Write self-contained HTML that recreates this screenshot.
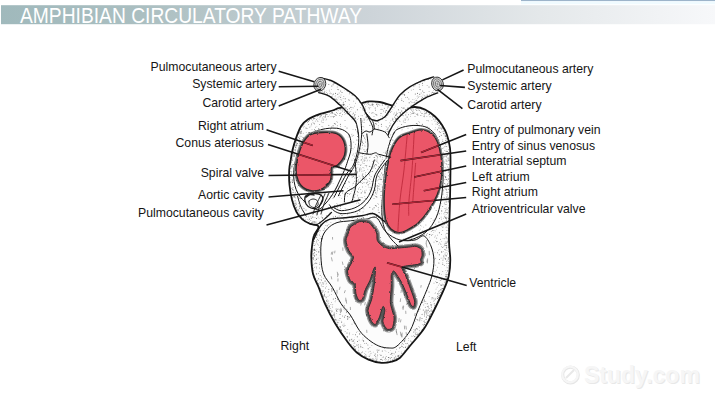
<!DOCTYPE html>
<html><head><meta charset="utf-8"><style>
html,body{margin:0;padding:0;background:#fff;width:715px;height:402px;overflow:hidden;}
svg{position:absolute;left:0;top:0;}
text{font-family:"Liberation Sans",sans-serif;font-size:12.25px;fill:#151515;}
.title{font-size:21.5px;fill:#fff;}
</style></head><body>
<svg width="715" height="402" viewBox="0 0 715 402">
<defs>
<filter id="rough" x="-5%" y="-5%" width="110%" height="110%"><feTurbulence type="fractalNoise" baseFrequency="0.35" numOctaves="2" seed="4"/><feDisplacementMap in="SourceGraphic" scale="2.2" xChannelSelector="R" yChannelSelector="G"/></filter>
<linearGradient id="tg" gradientUnits="userSpaceOnUse" x1="0" x2="715" y1="0" y2="0">
<stop offset="0" stop-color="#a0b9bc"/><stop offset="0.2" stop-color="#abbfc1"/><stop offset="0.52" stop-color="#cdd4d9"/><stop offset="0.755" stop-color="#e4e8ea"/><stop offset="1" stop-color="#f7f8fa"/>
</linearGradient>
<pattern id="stip" width="41" height="41" patternUnits="userSpaceOnUse"><rect width="41" height="41" fill="#fdfdfd"/><g fill="#6a6a6a"><circle cx="9.8" cy="22.3" r="0.39"/><circle cx="24.8" cy="25.7" r="0.32"/><circle cx="0.5" cy="34.3" r="0.36"/><circle cx="9.6" cy="40.8" r="0.42"/><circle cx="34.3" cy="19.5" r="0.46"/><circle cx="6.2" cy="26.0" r="0.52"/><circle cx="21.5" cy="30.4" r="0.47"/><circle cx="2.6" cy="31.1" r="0.45"/><circle cx="12.4" cy="1.3" r="0.52"/><circle cx="19.4" cy="29.5" r="0.52"/><circle cx="29.3" cy="37.8" r="0.40"/><circle cx="32.8" cy="18.2" r="0.53"/><circle cx="36.0" cy="4.0" r="0.33"/><circle cx="8.9" cy="39.6" r="0.41"/><circle cx="25.7" cy="12.3" r="0.43"/><circle cx="15.8" cy="14.4" r="0.45"/><circle cx="24.0" cy="37.1" r="0.47"/><circle cx="38.1" cy="35.1" r="0.55"/><circle cx="27.5" cy="6.7" r="0.52"/><circle cx="39.5" cy="37.1" r="0.44"/><circle cx="29.3" cy="8.7" r="0.51"/><circle cx="23.5" cy="11.7" r="0.32"/><circle cx="35.0" cy="40.6" r="0.32"/><circle cx="32.8" cy="16.8" r="0.34"/><circle cx="12.0" cy="31.5" r="0.52"/><circle cx="1.8" cy="25.2" r="0.31"/><circle cx="29.5" cy="13.6" r="0.52"/><circle cx="40.2" cy="20.7" r="0.55"/><circle cx="12.7" cy="3.2" r="0.45"/><circle cx="1.3" cy="8.1" r="0.40"/><circle cx="25.0" cy="6.4" r="0.31"/><circle cx="35.6" cy="12.9" r="0.54"/><circle cx="36.8" cy="15.5" r="0.42"/><circle cx="21.3" cy="26.4" r="0.45"/><circle cx="22.9" cy="25.4" r="0.54"/><circle cx="20.8" cy="17.7" r="0.48"/><circle cx="9.7" cy="12.3" r="0.54"/><circle cx="21.4" cy="22.5" r="0.30"/><circle cx="17.0" cy="23.8" r="0.31"/><circle cx="25.2" cy="25.9" r="0.32"/><circle cx="25.7" cy="19.1" r="0.47"/><circle cx="14.5" cy="29.0" r="0.48"/><circle cx="0.9" cy="2.5" r="0.47"/><circle cx="39.5" cy="10.3" r="0.41"/><circle cx="24.3" cy="13.1" r="0.39"/><circle cx="12.8" cy="15.1" r="0.45"/><circle cx="12.3" cy="15.5" r="0.49"/><circle cx="1.1" cy="23.3" r="0.48"/><circle cx="12.7" cy="9.1" r="0.50"/><circle cx="9.8" cy="7.7" r="0.41"/><circle cx="28.6" cy="4.2" r="0.38"/><circle cx="13.7" cy="34.2" r="0.41"/><circle cx="35.1" cy="6.9" r="0.38"/><circle cx="26.7" cy="36.3" r="0.41"/><circle cx="9.2" cy="5.0" r="0.43"/><circle cx="7.8" cy="33.1" r="0.51"/><circle cx="7.5" cy="11.4" r="0.50"/><circle cx="26.3" cy="33.1" r="0.39"/><circle cx="5.3" cy="12.0" r="0.50"/><circle cx="11.1" cy="14.2" r="0.40"/><circle cx="17.2" cy="16.8" r="0.53"/><circle cx="6.4" cy="0.2" r="0.54"/><circle cx="36.1" cy="40.5" r="0.41"/><circle cx="39.0" cy="38.0" r="0.36"/><circle cx="30.6" cy="34.3" r="0.47"/><circle cx="21.3" cy="11.9" r="0.39"/><circle cx="9.3" cy="2.8" r="0.45"/><circle cx="11.8" cy="33.2" r="0.31"/><circle cx="37.0" cy="28.4" r="0.53"/><circle cx="36.8" cy="36.9" r="0.44"/><circle cx="0.5" cy="30.6" r="0.34"/><circle cx="12.3" cy="27.2" r="0.43"/><circle cx="17.0" cy="38.5" r="0.45"/><circle cx="14.0" cy="10.4" r="0.52"/><circle cx="19.6" cy="32.1" r="0.39"/><circle cx="8.1" cy="21.9" r="0.50"/><circle cx="7.0" cy="32.5" r="0.53"/><circle cx="33.0" cy="33.8" r="0.30"/><circle cx="25.8" cy="35.4" r="0.31"/><circle cx="11.1" cy="11.0" r="0.43"/><circle cx="17.3" cy="19.4" r="0.49"/><circle cx="0.1" cy="2.2" r="0.33"/><circle cx="5.1" cy="2.8" r="0.54"/><circle cx="35.0" cy="3.5" r="0.43"/><circle cx="13.0" cy="12.9" r="0.39"/><circle cx="26.5" cy="24.1" r="0.39"/><circle cx="7.8" cy="13.5" r="0.33"/><circle cx="22.8" cy="29.4" r="0.40"/><circle cx="3.3" cy="7.3" r="0.39"/><circle cx="24.8" cy="32.1" r="0.40"/><circle cx="32.8" cy="25.5" r="0.41"/><circle cx="15.3" cy="20.3" r="0.48"/><circle cx="17.2" cy="28.5" r="0.42"/><circle cx="10.0" cy="22.0" r="0.47"/><circle cx="2.9" cy="17.4" r="0.41"/><circle cx="36.1" cy="38.4" r="0.39"/><circle cx="36.8" cy="32.4" r="0.37"/><circle cx="19.0" cy="5.0" r="0.50"/><circle cx="27.2" cy="36.4" r="0.50"/><circle cx="27.4" cy="30.1" r="0.44"/><circle cx="4.2" cy="24.1" r="0.30"/><circle cx="5.9" cy="31.7" r="0.31"/><circle cx="3.8" cy="4.1" r="0.52"/><circle cx="7.3" cy="1.0" r="0.51"/><circle cx="5.0" cy="34.6" r="0.47"/><circle cx="34.3" cy="39.0" r="0.44"/><circle cx="32.7" cy="1.5" r="0.49"/><circle cx="21.0" cy="29.3" r="0.33"/><circle cx="30.7" cy="38.3" r="0.32"/><circle cx="13.3" cy="23.1" r="0.51"/><circle cx="9.9" cy="7.4" r="0.36"/><circle cx="25.3" cy="30.9" r="0.40"/><circle cx="15.1" cy="16.3" r="0.39"/><circle cx="17.1" cy="3.4" r="0.43"/><circle cx="39.9" cy="16.9" r="0.49"/><circle cx="6.6" cy="28.3" r="0.49"/><circle cx="27.6" cy="21.2" r="0.42"/><circle cx="26.4" cy="36.8" r="0.34"/><circle cx="3.9" cy="30.7" r="0.53"/><circle cx="21.2" cy="18.2" r="0.48"/><circle cx="7.6" cy="11.0" r="0.35"/><circle cx="24.0" cy="12.9" r="0.36"/><circle cx="28.3" cy="39.1" r="0.37"/><circle cx="28.9" cy="16.9" r="0.51"/><circle cx="24.0" cy="11.0" r="0.35"/><circle cx="0.9" cy="19.7" r="0.40"/><circle cx="7.1" cy="14.8" r="0.38"/><circle cx="31.7" cy="5.9" r="0.55"/><circle cx="19.7" cy="24.6" r="0.42"/><circle cx="34.2" cy="33.7" r="0.44"/><circle cx="19.7" cy="29.5" r="0.51"/><circle cx="16.4" cy="30.1" r="0.54"/><circle cx="19.2" cy="9.4" r="0.36"/><circle cx="29.4" cy="27.7" r="0.54"/><circle cx="35.0" cy="9.9" r="0.35"/><circle cx="10.6" cy="7.7" r="0.48"/><circle cx="35.2" cy="36.9" r="0.36"/><circle cx="35.5" cy="12.9" r="0.41"/><circle cx="29.9" cy="3.5" r="0.32"/><circle cx="34.2" cy="12.0" r="0.39"/><circle cx="23.8" cy="27.7" r="0.30"/><circle cx="13.7" cy="17.9" r="0.42"/><circle cx="8.6" cy="24.0" r="0.54"/><circle cx="16.0" cy="22.3" r="0.33"/><circle cx="11.3" cy="27.3" r="0.33"/><circle cx="36.4" cy="37.3" r="0.32"/><circle cx="38.6" cy="15.3" r="0.49"/><circle cx="31.1" cy="12.1" r="0.47"/><circle cx="26.8" cy="33.0" r="0.37"/><circle cx="30.9" cy="39.4" r="0.47"/></g></pattern><pattern id="stipD" width="29" height="29" patternUnits="userSpaceOnUse"><rect width="29" height="29" fill="none"/><g fill="#555"><circle cx="15.5" cy="3.3" r="0.42"/><circle cx="10.2" cy="20.8" r="0.47"/><circle cx="16.4" cy="5.3" r="0.46"/><circle cx="18.3" cy="5.2" r="0.52"/><circle cx="19.0" cy="3.6" r="0.53"/><circle cx="4.1" cy="9.6" r="0.48"/><circle cx="17.3" cy="16.1" r="0.46"/><circle cx="13.3" cy="9.1" r="0.34"/><circle cx="2.0" cy="20.8" r="0.49"/><circle cx="15.8" cy="21.4" r="0.39"/><circle cx="7.7" cy="11.1" r="0.52"/><circle cx="1.2" cy="14.6" r="0.36"/><circle cx="22.3" cy="10.3" r="0.38"/><circle cx="11.7" cy="15.7" r="0.49"/><circle cx="10.2" cy="24.6" r="0.33"/><circle cx="7.8" cy="2.9" r="0.33"/><circle cx="22.6" cy="21.1" r="0.35"/><circle cx="5.5" cy="12.1" r="0.49"/><circle cx="23.7" cy="21.7" r="0.45"/><circle cx="4.2" cy="11.6" r="0.35"/><circle cx="15.3" cy="16.5" r="0.35"/><circle cx="7.3" cy="22.7" r="0.31"/><circle cx="23.3" cy="25.8" r="0.54"/><circle cx="11.1" cy="16.0" r="0.45"/><circle cx="18.4" cy="28.3" r="0.47"/><circle cx="8.7" cy="24.9" r="0.42"/><circle cx="17.4" cy="21.1" r="0.30"/><circle cx="22.3" cy="19.2" r="0.42"/><circle cx="15.2" cy="13.4" r="0.35"/><circle cx="15.4" cy="1.1" r="0.43"/><circle cx="18.7" cy="12.9" r="0.44"/><circle cx="27.8" cy="25.9" r="0.33"/><circle cx="23.0" cy="18.1" r="0.31"/><circle cx="10.4" cy="6.8" r="0.32"/><circle cx="15.6" cy="27.0" r="0.38"/><circle cx="25.2" cy="20.1" r="0.33"/><circle cx="24.9" cy="17.4" r="0.53"/><circle cx="20.8" cy="21.5" r="0.39"/><circle cx="23.4" cy="27.0" r="0.52"/><circle cx="12.7" cy="21.9" r="0.42"/><circle cx="3.2" cy="1.2" r="0.32"/><circle cx="5.8" cy="4.7" r="0.42"/><circle cx="20.3" cy="15.6" r="0.41"/><circle cx="18.8" cy="8.8" r="0.42"/><circle cx="22.0" cy="11.6" r="0.35"/><circle cx="26.1" cy="20.9" r="0.39"/><circle cx="10.8" cy="15.4" r="0.45"/><circle cx="6.5" cy="0.1" r="0.35"/><circle cx="22.7" cy="4.2" r="0.41"/><circle cx="5.7" cy="6.1" r="0.34"/><circle cx="11.7" cy="4.9" r="0.31"/><circle cx="3.2" cy="4.9" r="0.42"/><circle cx="1.7" cy="0.7" r="0.41"/><circle cx="11.8" cy="20.4" r="0.31"/><circle cx="11.7" cy="11.5" r="0.31"/><circle cx="28.0" cy="6.3" r="0.32"/><circle cx="13.8" cy="4.8" r="0.46"/><circle cx="10.0" cy="3.6" r="0.31"/><circle cx="21.1" cy="8.0" r="0.50"/><circle cx="13.5" cy="27.1" r="0.38"/><circle cx="7.2" cy="7.7" r="0.50"/><circle cx="18.2" cy="10.0" r="0.32"/><circle cx="19.8" cy="28.1" r="0.45"/><circle cx="0.1" cy="0.9" r="0.32"/><circle cx="4.9" cy="1.1" r="0.31"/><circle cx="19.0" cy="26.1" r="0.35"/><circle cx="28.2" cy="13.8" r="0.50"/><circle cx="26.6" cy="27.3" r="0.31"/><circle cx="8.8" cy="17.6" r="0.54"/><circle cx="2.5" cy="8.5" r="0.51"/><circle cx="3.3" cy="11.3" r="0.38"/><circle cx="19.7" cy="26.9" r="0.34"/><circle cx="21.5" cy="21.3" r="0.51"/><circle cx="16.0" cy="26.8" r="0.39"/><circle cx="12.0" cy="6.7" r="0.49"/><circle cx="13.9" cy="7.8" r="0.34"/><circle cx="20.9" cy="17.6" r="0.48"/><circle cx="11.2" cy="14.1" r="0.34"/><circle cx="20.6" cy="0.7" r="0.42"/><circle cx="22.0" cy="19.6" r="0.32"/><circle cx="6.9" cy="24.5" r="0.46"/><circle cx="25.5" cy="25.3" r="0.41"/><circle cx="26.0" cy="21.3" r="0.38"/><circle cx="10.7" cy="2.1" r="0.40"/><circle cx="27.7" cy="3.0" r="0.44"/><circle cx="3.2" cy="2.3" r="0.46"/><circle cx="7.0" cy="1.4" r="0.34"/><circle cx="18.7" cy="17.0" r="0.30"/><circle cx="6.7" cy="28.1" r="0.36"/><circle cx="16.3" cy="12.2" r="0.50"/><circle cx="17.5" cy="22.9" r="0.43"/><circle cx="5.5" cy="5.2" r="0.32"/><circle cx="23.9" cy="3.3" r="0.31"/><circle cx="28.0" cy="5.8" r="0.52"/><circle cx="2.5" cy="13.5" r="0.36"/><circle cx="24.1" cy="17.8" r="0.46"/><circle cx="22.1" cy="25.3" r="0.39"/><circle cx="17.5" cy="12.9" r="0.33"/><circle cx="24.2" cy="17.2" r="0.50"/><circle cx="6.0" cy="15.6" r="0.42"/><circle cx="21.1" cy="2.2" r="0.39"/><circle cx="14.1" cy="2.1" r="0.44"/><circle cx="21.3" cy="12.3" r="0.46"/><circle cx="17.6" cy="6.2" r="0.39"/><circle cx="28.9" cy="9.7" r="0.41"/><circle cx="2.4" cy="6.3" r="0.34"/><circle cx="27.0" cy="21.1" r="0.52"/><circle cx="28.6" cy="17.8" r="0.53"/><circle cx="15.5" cy="12.1" r="0.54"/><circle cx="26.2" cy="27.5" r="0.42"/><circle cx="22.4" cy="11.8" r="0.55"/><circle cx="26.7" cy="8.5" r="0.53"/><circle cx="5.4" cy="2.8" r="0.48"/><circle cx="8.5" cy="15.1" r="0.46"/><circle cx="1.2" cy="21.6" r="0.37"/><circle cx="12.5" cy="10.0" r="0.49"/><circle cx="21.7" cy="8.3" r="0.33"/><circle cx="8.7" cy="11.9" r="0.32"/><circle cx="4.4" cy="22.1" r="0.48"/><circle cx="28.3" cy="28.4" r="0.52"/><circle cx="10.8" cy="4.7" r="0.38"/><circle cx="13.4" cy="15.3" r="0.44"/><circle cx="10.4" cy="24.7" r="0.37"/><circle cx="13.4" cy="25.7" r="0.50"/><circle cx="8.6" cy="7.0" r="0.50"/><circle cx="0.3" cy="3.8" r="0.43"/><circle cx="15.5" cy="4.8" r="0.31"/><circle cx="5.9" cy="22.3" r="0.42"/><circle cx="28.4" cy="22.8" r="0.54"/><circle cx="1.0" cy="5.4" r="0.30"/><circle cx="12.5" cy="9.8" r="0.31"/><circle cx="15.8" cy="2.7" r="0.38"/><circle cx="7.2" cy="23.3" r="0.40"/><circle cx="7.6" cy="1.3" r="0.41"/><circle cx="18.2" cy="19.6" r="0.53"/><circle cx="23.4" cy="7.2" r="0.33"/><circle cx="22.0" cy="22.9" r="0.43"/><circle cx="24.1" cy="16.0" r="0.37"/><circle cx="4.9" cy="0.5" r="0.46"/><circle cx="26.0" cy="26.3" r="0.42"/><circle cx="19.3" cy="26.9" r="0.50"/><circle cx="17.5" cy="12.0" r="0.43"/><circle cx="5.0" cy="5.3" r="0.47"/><circle cx="28.8" cy="15.9" r="0.40"/><circle cx="10.2" cy="13.2" r="0.50"/><circle cx="13.1" cy="27.8" r="0.34"/><circle cx="9.1" cy="15.1" r="0.40"/><circle cx="24.7" cy="24.0" r="0.53"/><circle cx="17.8" cy="0.9" r="0.44"/><circle cx="15.9" cy="14.1" r="0.37"/><circle cx="20.6" cy="26.4" r="0.33"/><circle cx="19.4" cy="10.8" r="0.43"/><circle cx="26.0" cy="27.8" r="0.46"/><circle cx="5.7" cy="26.7" r="0.35"/><circle cx="11.1" cy="24.0" r="0.38"/><circle cx="7.9" cy="27.5" r="0.54"/><circle cx="9.2" cy="11.4" r="0.37"/><circle cx="3.8" cy="7.3" r="0.55"/><circle cx="2.3" cy="6.7" r="0.35"/><circle cx="2.3" cy="15.3" r="0.49"/><circle cx="24.3" cy="18.3" r="0.50"/><circle cx="0.2" cy="8.2" r="0.54"/><circle cx="2.0" cy="7.8" r="0.42"/><circle cx="7.8" cy="15.8" r="0.31"/><circle cx="6.8" cy="27.8" r="0.34"/><circle cx="26.3" cy="5.2" r="0.55"/><circle cx="19.6" cy="18.8" r="0.34"/><circle cx="1.6" cy="22.0" r="0.34"/><circle cx="5.5" cy="23.9" r="0.52"/><circle cx="1.4" cy="27.9" r="0.43"/></g></pattern><pattern id="stipD2" width="33" height="33" patternUnits="userSpaceOnUse"><rect width="33" height="33" fill="none"/><g fill="#666"><circle cx="12.6" cy="3.5" r="0.38"/><circle cx="32.6" cy="9.3" r="0.33"/><circle cx="4.8" cy="4.2" r="0.37"/><circle cx="30.2" cy="2.5" r="0.34"/><circle cx="31.0" cy="32.9" r="0.50"/><circle cx="8.1" cy="11.7" r="0.49"/><circle cx="16.0" cy="23.2" r="0.36"/><circle cx="0.7" cy="11.4" r="0.45"/><circle cx="25.8" cy="18.8" r="0.39"/><circle cx="17.8" cy="14.6" r="0.41"/><circle cx="27.5" cy="6.6" r="0.42"/><circle cx="30.8" cy="28.0" r="0.34"/><circle cx="31.8" cy="27.7" r="0.33"/><circle cx="8.8" cy="6.7" r="0.31"/><circle cx="32.3" cy="13.5" r="0.47"/><circle cx="3.8" cy="0.5" r="0.47"/><circle cx="26.2" cy="32.7" r="0.44"/><circle cx="17.3" cy="25.3" r="0.32"/><circle cx="17.8" cy="14.6" r="0.33"/><circle cx="19.8" cy="10.7" r="0.40"/><circle cx="12.3" cy="10.5" r="0.37"/><circle cx="19.8" cy="32.4" r="0.49"/><circle cx="28.5" cy="27.6" r="0.36"/><circle cx="32.2" cy="8.9" r="0.32"/><circle cx="16.5" cy="24.2" r="0.37"/><circle cx="21.3" cy="9.3" r="0.49"/><circle cx="14.9" cy="15.8" r="0.41"/><circle cx="28.9" cy="32.6" r="0.41"/><circle cx="14.6" cy="20.4" r="0.31"/><circle cx="14.0" cy="28.0" r="0.46"/><circle cx="2.0" cy="28.2" r="0.38"/><circle cx="32.4" cy="12.1" r="0.34"/><circle cx="18.1" cy="29.2" r="0.39"/><circle cx="28.6" cy="23.5" r="0.37"/><circle cx="9.9" cy="16.7" r="0.38"/><circle cx="12.3" cy="21.5" r="0.48"/><circle cx="19.3" cy="4.8" r="0.34"/><circle cx="12.2" cy="20.3" r="0.33"/><circle cx="2.7" cy="10.6" r="0.36"/><circle cx="1.0" cy="17.8" r="0.48"/><circle cx="17.6" cy="24.3" r="0.47"/><circle cx="27.6" cy="30.1" r="0.39"/><circle cx="22.5" cy="4.0" r="0.48"/><circle cx="12.5" cy="15.7" r="0.48"/><circle cx="9.5" cy="6.3" r="0.46"/><circle cx="19.8" cy="2.8" r="0.31"/><circle cx="11.6" cy="0.2" r="0.47"/><circle cx="6.1" cy="9.0" r="0.38"/><circle cx="16.9" cy="14.3" r="0.43"/><circle cx="21.8" cy="14.4" r="0.32"/><circle cx="32.3" cy="22.8" r="0.32"/><circle cx="14.6" cy="24.9" r="0.50"/><circle cx="2.2" cy="0.3" r="0.40"/><circle cx="13.9" cy="29.5" r="0.47"/><circle cx="10.9" cy="13.8" r="0.42"/><circle cx="29.2" cy="6.7" r="0.38"/><circle cx="2.9" cy="21.2" r="0.31"/><circle cx="30.9" cy="17.3" r="0.41"/><circle cx="2.8" cy="7.7" r="0.39"/><circle cx="28.3" cy="17.8" r="0.36"/><circle cx="32.4" cy="21.8" r="0.41"/><circle cx="6.7" cy="9.9" r="0.48"/><circle cx="4.4" cy="17.5" r="0.42"/><circle cx="11.7" cy="25.4" r="0.48"/><circle cx="28.3" cy="24.4" r="0.34"/><circle cx="2.0" cy="14.3" r="0.36"/><circle cx="6.4" cy="28.8" r="0.34"/><circle cx="27.2" cy="30.9" r="0.32"/><circle cx="30.1" cy="13.1" r="0.34"/><circle cx="6.2" cy="1.2" r="0.40"/><circle cx="12.7" cy="28.1" r="0.47"/><circle cx="1.9" cy="13.2" r="0.38"/><circle cx="5.9" cy="8.3" r="0.35"/><circle cx="22.9" cy="11.2" r="0.32"/><circle cx="7.3" cy="14.6" r="0.41"/><circle cx="8.1" cy="23.1" r="0.34"/><circle cx="22.1" cy="20.1" r="0.34"/><circle cx="24.8" cy="13.0" r="0.41"/><circle cx="19.7" cy="20.7" r="0.39"/><circle cx="1.8" cy="26.0" r="0.47"/><circle cx="16.2" cy="19.1" r="0.35"/><circle cx="29.7" cy="22.6" r="0.34"/><circle cx="27.0" cy="32.5" r="0.37"/><circle cx="32.9" cy="15.9" r="0.34"/><circle cx="23.7" cy="11.2" r="0.45"/><circle cx="19.3" cy="3.6" r="0.41"/><circle cx="28.1" cy="15.8" r="0.41"/><circle cx="28.5" cy="14.7" r="0.40"/><circle cx="19.2" cy="27.2" r="0.34"/><circle cx="3.1" cy="25.1" r="0.41"/><circle cx="10.0" cy="29.4" r="0.48"/><circle cx="17.9" cy="32.6" r="0.47"/><circle cx="24.7" cy="9.6" r="0.30"/><circle cx="22.4" cy="24.3" r="0.37"/><circle cx="15.8" cy="18.7" r="0.35"/><circle cx="23.0" cy="18.6" r="0.38"/><circle cx="3.6" cy="18.3" r="0.36"/><circle cx="23.9" cy="5.7" r="0.38"/><circle cx="6.5" cy="13.5" r="0.42"/><circle cx="3.5" cy="1.8" r="0.40"/><circle cx="6.7" cy="16.7" r="0.33"/><circle cx="3.3" cy="17.7" r="0.48"/><circle cx="28.7" cy="17.0" r="0.38"/><circle cx="2.2" cy="9.1" r="0.36"/><circle cx="31.1" cy="3.9" r="0.49"/><circle cx="15.7" cy="14.3" r="0.35"/><circle cx="31.8" cy="6.1" r="0.41"/><circle cx="16.9" cy="6.6" r="0.34"/><circle cx="32.5" cy="26.1" r="0.45"/><circle cx="29.8" cy="3.3" r="0.44"/><circle cx="24.8" cy="7.4" r="0.39"/><circle cx="32.2" cy="10.8" r="0.45"/><circle cx="5.5" cy="22.0" r="0.35"/><circle cx="16.8" cy="12.3" r="0.47"/><circle cx="24.6" cy="16.6" r="0.44"/><circle cx="14.1" cy="26.5" r="0.35"/><circle cx="18.0" cy="19.3" r="0.38"/><circle cx="1.5" cy="5.6" r="0.43"/><circle cx="7.0" cy="25.0" r="0.40"/><circle cx="31.5" cy="28.0" r="0.45"/></g></pattern><pattern id="stipL" width="31" height="31" patternUnits="userSpaceOnUse"><rect width="31" height="31" fill="#ffffff"/><g fill="#777"><circle cx="11.5" cy="1.3" r="0.41"/><circle cx="23.1" cy="28.6" r="0.34"/><circle cx="4.9" cy="30.4" r="0.45"/><circle cx="15.0" cy="22.9" r="0.33"/><circle cx="16.9" cy="20.7" r="0.42"/><circle cx="5.0" cy="4.2" r="0.42"/><circle cx="27.4" cy="4.3" r="0.30"/><circle cx="2.6" cy="24.3" r="0.38"/><circle cx="14.1" cy="30.8" r="0.42"/><circle cx="8.2" cy="21.7" r="0.30"/><circle cx="8.7" cy="21.7" r="0.33"/><circle cx="1.0" cy="16.1" r="0.37"/><circle cx="30.1" cy="3.1" r="0.46"/><circle cx="12.0" cy="25.0" r="0.39"/><circle cx="20.7" cy="10.1" r="0.34"/><circle cx="14.0" cy="24.8" r="0.37"/><circle cx="7.1" cy="12.9" r="0.32"/><circle cx="9.8" cy="17.8" r="0.41"/><circle cx="18.5" cy="9.0" r="0.30"/><circle cx="0.8" cy="10.5" r="0.34"/><circle cx="17.6" cy="8.2" r="0.45"/><circle cx="18.6" cy="20.5" r="0.45"/><circle cx="16.2" cy="13.2" r="0.36"/><circle cx="2.0" cy="24.6" r="0.40"/><circle cx="3.1" cy="28.7" r="0.42"/><circle cx="19.3" cy="13.6" r="0.33"/><circle cx="31.0" cy="5.2" r="0.37"/><circle cx="31.0" cy="3.8" r="0.40"/><circle cx="14.9" cy="7.7" r="0.48"/><circle cx="12.8" cy="0.4" r="0.39"/><circle cx="0.1" cy="22.0" r="0.47"/><circle cx="28.1" cy="1.5" r="0.44"/><circle cx="9.4" cy="14.7" r="0.36"/><circle cx="9.5" cy="4.1" r="0.43"/><circle cx="2.7" cy="29.9" r="0.31"/><circle cx="29.9" cy="5.9" r="0.32"/><circle cx="23.1" cy="16.5" r="0.45"/><circle cx="15.8" cy="19.5" r="0.32"/><circle cx="20.9" cy="15.9" r="0.49"/><circle cx="0.2" cy="2.1" r="0.44"/><circle cx="28.7" cy="13.1" r="0.44"/><circle cx="17.4" cy="12.1" r="0.39"/><circle cx="18.7" cy="0.9" r="0.36"/><circle cx="22.9" cy="8.0" r="0.39"/><circle cx="8.0" cy="11.1" r="0.43"/></g></pattern>
</defs>
<rect x="521" y="0" width="194" height="1.2" fill="#9db4ca"/>
<rect x="521" y="1.2" width="194" height="3" fill="#f0fbff"/>
<rect x="1" y="5.2" width="714" height="19" fill="url(#tg)"/>
<text class="title" x="20" y="23" textLength="342" lengthAdjust="spacingAndGlyphs">AMPHIBIAN CIRCULATORY PATHWAY</text>
<clipPath id="hc"><path d="M296.4,211.8 C294.7,208.6 293.1,204.4 292.0,199.9 C290.9,195.4 290.0,190.0 289.5,185.0 C289.0,180.0 289.0,174.2 289.2,170.0 C289.4,165.8 290.1,163.3 290.7,160.0 C291.2,156.7 291.6,153.6 292.5,150.0 C293.4,146.4 294.6,142.3 296.0,138.3 C297.4,134.3 299.2,129.3 301.2,126.1 C303.2,122.9 304.9,121.2 308.1,119.2 C311.3,117.2 316.2,115.4 320.3,113.9 C324.4,112.5 329.3,111.5 332.5,110.5 C335.7,109.5 336.2,108.5 339.5,107.8 C342.8,107.0 348.2,106.8 352.0,106.0 C355.8,105.2 359.4,103.8 362.3,103.0 C365.2,102.2 366.3,101.6 369.2,101.4 C372.1,101.2 376.2,101.4 379.7,102.0 C383.1,102.6 386.2,103.7 389.9,104.8 C393.6,105.9 397.8,108.1 402.0,108.5 C406.2,108.9 411.2,106.8 415.0,107.0 C418.8,107.2 421.7,107.9 425.0,109.5 C428.3,111.1 432.2,113.9 435.0,116.5 C437.8,119.1 440.0,121.9 442.0,125.0 C444.0,128.1 445.7,131.2 447.0,135.0 C448.3,138.8 449.4,143.0 450.0,148.0 C450.6,153.0 450.5,156.3 450.5,165.0 C450.5,173.7 450.2,187.5 450.0,200.0 C449.8,212.5 448.9,229.9 449.0,239.9 C449.1,249.9 450.3,253.8 450.3,259.8 C450.3,265.8 449.9,270.7 448.8,275.7 C447.7,280.7 446.3,283.8 443.8,289.7 C441.3,295.6 437.0,304.4 433.7,311.0 C430.4,317.6 427.8,323.2 423.8,329.0 C419.8,334.8 413.9,341.2 409.9,346.0 C405.9,350.8 403.0,355.1 400.0,357.7 C397.0,360.3 394.8,360.7 391.7,361.6 C388.6,362.5 385.3,363.2 381.4,362.9 C377.5,362.6 372.6,361.3 368.5,359.6 C364.4,357.9 360.2,355.4 356.8,352.5 C353.4,349.6 351.5,347.1 347.8,342.2 C344.1,337.3 338.7,329.4 334.9,323.0 C331.1,316.6 327.6,309.5 324.9,303.6 C322.2,297.7 320.7,292.4 318.7,287.4 C316.7,282.4 314.2,279.0 313.0,273.8 C311.8,268.6 311.4,261.2 311.3,256.4 C311.2,251.6 311.8,248.4 312.2,245.0 C312.6,241.6 312.8,238.9 313.9,235.8 C314.9,232.7 319.2,228.5 318.5,226.5 C317.8,224.5 312.6,224.9 309.9,223.7 C307.2,222.5 304.6,221.3 302.4,219.3 C300.1,217.3 298.1,215.0 296.4,211.8 Z"/></clipPath><path d="M296.4,211.8 C294.7,208.6 293.1,204.4 292.0,199.9 C290.9,195.4 290.0,190.0 289.5,185.0 C289.0,180.0 289.0,174.2 289.2,170.0 C289.4,165.8 290.1,163.3 290.7,160.0 C291.2,156.7 291.6,153.6 292.5,150.0 C293.4,146.4 294.6,142.3 296.0,138.3 C297.4,134.3 299.2,129.3 301.2,126.1 C303.2,122.9 304.9,121.2 308.1,119.2 C311.3,117.2 316.2,115.4 320.3,113.9 C324.4,112.5 329.3,111.5 332.5,110.5 C335.7,109.5 336.2,108.5 339.5,107.8 C342.8,107.0 348.2,106.8 352.0,106.0 C355.8,105.2 359.4,103.8 362.3,103.0 C365.2,102.2 366.3,101.6 369.2,101.4 C372.1,101.2 376.2,101.4 379.7,102.0 C383.1,102.6 386.2,103.7 389.9,104.8 C393.6,105.9 397.8,108.1 402.0,108.5 C406.2,108.9 411.2,106.8 415.0,107.0 C418.8,107.2 421.7,107.9 425.0,109.5 C428.3,111.1 432.2,113.9 435.0,116.5 C437.8,119.1 440.0,121.9 442.0,125.0 C444.0,128.1 445.7,131.2 447.0,135.0 C448.3,138.8 449.4,143.0 450.0,148.0 C450.6,153.0 450.5,156.3 450.5,165.0 C450.5,173.7 450.2,187.5 450.0,200.0 C449.8,212.5 448.9,229.9 449.0,239.9 C449.1,249.9 450.3,253.8 450.3,259.8 C450.3,265.8 449.9,270.7 448.8,275.7 C447.7,280.7 446.3,283.8 443.8,289.7 C441.3,295.6 437.0,304.4 433.7,311.0 C430.4,317.6 427.8,323.2 423.8,329.0 C419.8,334.8 413.9,341.2 409.9,346.0 C405.9,350.8 403.0,355.1 400.0,357.7 C397.0,360.3 394.8,360.7 391.7,361.6 C388.6,362.5 385.3,363.2 381.4,362.9 C377.5,362.6 372.6,361.3 368.5,359.6 C364.4,357.9 360.2,355.4 356.8,352.5 C353.4,349.6 351.5,347.1 347.8,342.2 C344.1,337.3 338.7,329.4 334.9,323.0 C331.1,316.6 327.6,309.5 324.9,303.6 C322.2,297.7 320.7,292.4 318.7,287.4 C316.7,282.4 314.2,279.0 313.0,273.8 C311.8,268.6 311.4,261.2 311.3,256.4 C311.2,251.6 311.8,248.4 312.2,245.0 C312.6,241.6 312.8,238.9 313.9,235.8 C314.9,232.7 319.2,228.5 318.5,226.5 C317.8,224.5 312.6,224.9 309.9,223.7 C307.2,222.5 304.6,221.3 302.4,219.3 C300.1,217.3 298.1,215.0 296.4,211.8 Z" fill="url(#stip)" stroke="none" stroke-width="0" stroke-linejoin="round" stroke-linecap="round" /><path d="M296.4,211.8 C294.7,208.6 293.1,204.4 292.0,199.9 C290.9,195.4 290.0,190.0 289.5,185.0 C289.0,180.0 289.0,174.2 289.2,170.0 C289.4,165.8 290.1,163.3 290.7,160.0 C291.2,156.7 291.6,153.6 292.5,150.0 C293.4,146.4 294.6,142.3 296.0,138.3 C297.4,134.3 299.2,129.3 301.2,126.1 C303.2,122.9 304.9,121.2 308.1,119.2 C311.3,117.2 316.2,115.4 320.3,113.9 C324.4,112.5 329.3,111.5 332.5,110.5 C335.7,109.5 336.2,108.5 339.5,107.8 C342.8,107.0 348.2,106.8 352.0,106.0 C355.8,105.2 359.4,103.8 362.3,103.0 C365.2,102.2 366.3,101.6 369.2,101.4 C372.1,101.2 376.2,101.4 379.7,102.0 C383.1,102.6 386.2,103.7 389.9,104.8 C393.6,105.9 397.8,108.1 402.0,108.5 C406.2,108.9 411.2,106.8 415.0,107.0 C418.8,107.2 421.7,107.9 425.0,109.5 C428.3,111.1 432.2,113.9 435.0,116.5 C437.8,119.1 440.0,121.9 442.0,125.0 C444.0,128.1 445.7,131.2 447.0,135.0 C448.3,138.8 449.4,143.0 450.0,148.0 C450.6,153.0 450.5,156.3 450.5,165.0 C450.5,173.7 450.2,187.5 450.0,200.0 C449.8,212.5 448.9,229.9 449.0,239.9 C449.1,249.9 450.3,253.8 450.3,259.8 C450.3,265.8 449.9,270.7 448.8,275.7 C447.7,280.7 446.3,283.8 443.8,289.7 C441.3,295.6 437.0,304.4 433.7,311.0 C430.4,317.6 427.8,323.2 423.8,329.0 C419.8,334.8 413.9,341.2 409.9,346.0 C405.9,350.8 403.0,355.1 400.0,357.7 C397.0,360.3 394.8,360.7 391.7,361.6 C388.6,362.5 385.3,363.2 381.4,362.9 C377.5,362.6 372.6,361.3 368.5,359.6 C364.4,357.9 360.2,355.4 356.8,352.5 C353.4,349.6 351.5,347.1 347.8,342.2 C344.1,337.3 338.7,329.4 334.9,323.0 C331.1,316.6 327.6,309.5 324.9,303.6 C322.2,297.7 320.7,292.4 318.7,287.4 C316.7,282.4 314.2,279.0 313.0,273.8 C311.8,268.6 311.4,261.2 311.3,256.4 C311.2,251.6 311.8,248.4 312.2,245.0 C312.6,241.6 312.8,238.9 313.9,235.8 C314.9,232.7 319.2,228.5 318.5,226.5 C317.8,224.5 312.6,224.9 309.9,223.7 C307.2,222.5 304.6,221.3 302.4,219.3 C300.1,217.3 298.1,215.0 296.4,211.8 Z" fill="none" stroke="url(#stipD2)" stroke-width="16" stroke-linejoin="round" stroke-linecap="round" clip-path="url(#hc)"/><path d="M296.4,211.8 C294.7,208.6 293.1,204.4 292.0,199.9 C290.9,195.4 290.0,190.0 289.5,185.0 C289.0,180.0 289.0,174.2 289.2,170.0 C289.4,165.8 290.1,163.3 290.7,160.0 C291.2,156.7 291.6,153.6 292.5,150.0 C293.4,146.4 294.6,142.3 296.0,138.3 C297.4,134.3 299.2,129.3 301.2,126.1 C303.2,122.9 304.9,121.2 308.1,119.2 C311.3,117.2 316.2,115.4 320.3,113.9 C324.4,112.5 329.3,111.5 332.5,110.5 C335.7,109.5 336.2,108.5 339.5,107.8 C342.8,107.0 348.2,106.8 352.0,106.0 C355.8,105.2 359.4,103.8 362.3,103.0 C365.2,102.2 366.3,101.6 369.2,101.4 C372.1,101.2 376.2,101.4 379.7,102.0 C383.1,102.6 386.2,103.7 389.9,104.8 C393.6,105.9 397.8,108.1 402.0,108.5 C406.2,108.9 411.2,106.8 415.0,107.0 C418.8,107.2 421.7,107.9 425.0,109.5 C428.3,111.1 432.2,113.9 435.0,116.5 C437.8,119.1 440.0,121.9 442.0,125.0 C444.0,128.1 445.7,131.2 447.0,135.0 C448.3,138.8 449.4,143.0 450.0,148.0 C450.6,153.0 450.5,156.3 450.5,165.0 C450.5,173.7 450.2,187.5 450.0,200.0 C449.8,212.5 448.9,229.9 449.0,239.9 C449.1,249.9 450.3,253.8 450.3,259.8 C450.3,265.8 449.9,270.7 448.8,275.7 C447.7,280.7 446.3,283.8 443.8,289.7 C441.3,295.6 437.0,304.4 433.7,311.0 C430.4,317.6 427.8,323.2 423.8,329.0 C419.8,334.8 413.9,341.2 409.9,346.0 C405.9,350.8 403.0,355.1 400.0,357.7 C397.0,360.3 394.8,360.7 391.7,361.6 C388.6,362.5 385.3,363.2 381.4,362.9 C377.5,362.6 372.6,361.3 368.5,359.6 C364.4,357.9 360.2,355.4 356.8,352.5 C353.4,349.6 351.5,347.1 347.8,342.2 C344.1,337.3 338.7,329.4 334.9,323.0 C331.1,316.6 327.6,309.5 324.9,303.6 C322.2,297.7 320.7,292.4 318.7,287.4 C316.7,282.4 314.2,279.0 313.0,273.8 C311.8,268.6 311.4,261.2 311.3,256.4 C311.2,251.6 311.8,248.4 312.2,245.0 C312.6,241.6 312.8,238.9 313.9,235.8 C314.9,232.7 319.2,228.5 318.5,226.5 C317.8,224.5 312.6,224.9 309.9,223.7 C307.2,222.5 304.6,221.3 302.4,219.3 C300.1,217.3 298.1,215.0 296.4,211.8 Z" fill="none" stroke="url(#stipD)" stroke-width="7" stroke-linejoin="round" stroke-linecap="round" clip-path="url(#hc)"/><path d="M296.4,211.8 C294.7,208.6 293.1,204.4 292.0,199.9 C290.9,195.4 290.0,190.0 289.5,185.0 C289.0,180.0 289.0,174.2 289.2,170.0 C289.4,165.8 290.1,163.3 290.7,160.0 C291.2,156.7 291.6,153.6 292.5,150.0 C293.4,146.4 294.6,142.3 296.0,138.3 C297.4,134.3 299.2,129.3 301.2,126.1 C303.2,122.9 304.9,121.2 308.1,119.2 C311.3,117.2 316.2,115.4 320.3,113.9 C324.4,112.5 329.3,111.5 332.5,110.5 C335.7,109.5 336.2,108.5 339.5,107.8 C342.8,107.0 348.2,106.8 352.0,106.0 C355.8,105.2 359.4,103.8 362.3,103.0 C365.2,102.2 366.3,101.6 369.2,101.4 C372.1,101.2 376.2,101.4 379.7,102.0 C383.1,102.6 386.2,103.7 389.9,104.8 C393.6,105.9 397.8,108.1 402.0,108.5 C406.2,108.9 411.2,106.8 415.0,107.0 C418.8,107.2 421.7,107.9 425.0,109.5 C428.3,111.1 432.2,113.9 435.0,116.5 C437.8,119.1 440.0,121.9 442.0,125.0 C444.0,128.1 445.7,131.2 447.0,135.0 C448.3,138.8 449.4,143.0 450.0,148.0 C450.6,153.0 450.5,156.3 450.5,165.0 C450.5,173.7 450.2,187.5 450.0,200.0 C449.8,212.5 448.9,229.9 449.0,239.9 C449.1,249.9 450.3,253.8 450.3,259.8 C450.3,265.8 449.9,270.7 448.8,275.7 C447.7,280.7 446.3,283.8 443.8,289.7 C441.3,295.6 437.0,304.4 433.7,311.0 C430.4,317.6 427.8,323.2 423.8,329.0 C419.8,334.8 413.9,341.2 409.9,346.0 C405.9,350.8 403.0,355.1 400.0,357.7 C397.0,360.3 394.8,360.7 391.7,361.6 C388.6,362.5 385.3,363.2 381.4,362.9 C377.5,362.6 372.6,361.3 368.5,359.6 C364.4,357.9 360.2,355.4 356.8,352.5 C353.4,349.6 351.5,347.1 347.8,342.2 C344.1,337.3 338.7,329.4 334.9,323.0 C331.1,316.6 327.6,309.5 324.9,303.6 C322.2,297.7 320.7,292.4 318.7,287.4 C316.7,282.4 314.2,279.0 313.0,273.8 C311.8,268.6 311.4,261.2 311.3,256.4 C311.2,251.6 311.8,248.4 312.2,245.0 C312.6,241.6 312.8,238.9 313.9,235.8 C314.9,232.7 319.2,228.5 318.5,226.5 C317.8,224.5 312.6,224.9 309.9,223.7 C307.2,222.5 304.6,221.3 302.4,219.3 C300.1,217.3 298.1,215.0 296.4,211.8 Z" fill="none" stroke="#161616" stroke-width="1.8" stroke-linejoin="round" stroke-linecap="round" /><path d="M297.7,152.3 C299.2,146.9 300.6,143.2 302.9,140.0 C305.2,136.8 307.8,135.0 311.6,133.1 C315.4,131.2 321.0,129.4 325.6,128.7 C330.2,128.0 335.7,127.8 339.5,128.7 C343.3,129.6 346.6,131.6 348.5,134.0 C350.4,136.4 350.7,140.0 351.0,143.0 C351.3,146.0 351.0,149.2 350.5,152.0 C350.0,154.8 348.9,157.4 348.0,160.0 C347.1,162.6 346.7,164.5 345.4,167.8 C344.1,171.1 341.9,176.0 340.0,180.0 C338.1,184.0 336.3,188.2 334.0,192.0 C331.7,195.8 328.8,200.1 326.0,203.0 C323.2,205.9 320.8,209.7 317.3,209.5 C313.8,209.3 308.4,205.3 304.9,202.0 C301.4,198.7 298.1,194.6 296.2,189.6 C294.3,184.6 293.4,178.4 293.7,172.2 C293.9,166.0 296.2,157.7 297.7,152.3 Z" fill="url(#stipL)" stroke="#161616" stroke-width="1.0" stroke-linejoin="round" stroke-linecap="round" /><path d="M394.0,133.0 C395.5,130.3 395.7,130.2 398.0,129.0 C400.3,127.8 404.7,126.6 408.0,126.0 C411.3,125.4 414.8,125.2 418.0,125.5 C421.2,125.8 424.3,126.2 427.0,127.5 C429.7,128.8 432.1,130.8 434.0,133.0 C435.9,135.2 437.2,137.8 438.5,141.0 C439.8,144.2 440.8,148.0 441.5,152.0 C442.2,156.0 442.8,160.3 443.0,165.0 C443.2,169.7 443.3,174.2 443.0,180.0 C442.7,185.8 442.2,193.7 441.0,200.0 C439.8,206.3 438.5,212.7 436.0,218.0 C433.5,223.3 430.3,228.3 426.0,232.0 C421.7,235.7 415.0,238.7 410.0,240.0 C405.0,241.3 400.0,241.3 396.0,240.0 C392.0,238.7 388.3,236.2 386.0,232.0 C383.7,227.8 382.5,222.0 382.0,215.0 C381.5,208.0 382.3,199.2 383.0,190.0 C383.7,180.8 385.0,167.5 386.0,160.0 C387.0,152.5 387.7,149.5 389.0,145.0 C390.3,140.5 392.5,135.7 394.0,133.0 Z" fill="url(#stipL)" stroke="#161616" stroke-width="1.0" stroke-linejoin="round" stroke-linecap="round" /><g filter="url(#rough)"><path d="M309.9,135.0 C313.2,133.1 317.9,132.8 322.3,132.6 C326.7,132.4 332.9,132.3 336.5,133.8 C340.1,135.3 342.5,138.1 343.8,141.6 C345.1,145.1 345.6,150.9 344.5,154.8 C343.4,158.7 339.7,162.9 337.5,165.0 C335.3,167.1 332.7,165.0 331.5,167.5 C330.3,170.0 331.9,176.6 330.5,180.0 C329.1,183.4 326.0,186.4 323.0,188.2 C320.0,190.0 316.0,191.2 312.4,190.8 C308.8,190.4 303.9,188.5 301.2,185.5 C298.5,182.5 296.9,177.0 296.3,172.7 C295.7,168.4 296.5,164.2 297.5,159.5 C298.5,154.8 300.4,148.3 302.5,144.2 C304.6,140.1 306.6,136.9 309.9,135.0 Z" fill="none" stroke="#9a9a9a" stroke-width="4.6" stroke-linejoin="round" stroke-linecap="round" /><path d="M309.9,135.0 C313.2,133.1 317.9,132.8 322.3,132.6 C326.7,132.4 332.9,132.3 336.5,133.8 C340.1,135.3 342.5,138.1 343.8,141.6 C345.1,145.1 345.6,150.9 344.5,154.8 C343.4,158.7 339.7,162.9 337.5,165.0 C335.3,167.1 332.7,165.0 331.5,167.5 C330.3,170.0 331.9,176.6 330.5,180.0 C329.1,183.4 326.0,186.4 323.0,188.2 C320.0,190.0 316.0,191.2 312.4,190.8 C308.8,190.4 303.9,188.5 301.2,185.5 C298.5,182.5 296.9,177.0 296.3,172.7 C295.7,168.4 296.5,164.2 297.5,159.5 C298.5,154.8 300.4,148.3 302.5,144.2 C304.6,140.1 306.6,136.9 309.9,135.0 Z" fill="none" stroke="#5a5a5a" stroke-width="3.0" stroke-linejoin="round" stroke-linecap="round" /><path d="M309.9,135.0 C313.2,133.1 317.9,132.8 322.3,132.6 C326.7,132.4 332.9,132.3 336.5,133.8 C340.1,135.3 342.5,138.1 343.8,141.6 C345.1,145.1 345.6,150.9 344.5,154.8 C343.4,158.7 339.7,162.9 337.5,165.0 C335.3,167.1 332.7,165.0 331.5,167.5 C330.3,170.0 331.9,176.6 330.5,180.0 C329.1,183.4 326.0,186.4 323.0,188.2 C320.0,190.0 316.0,191.2 312.4,190.8 C308.8,190.4 303.9,188.5 301.2,185.5 C298.5,182.5 296.9,177.0 296.3,172.7 C295.7,168.4 296.5,164.2 297.5,159.5 C298.5,154.8 300.4,148.3 302.5,144.2 C304.6,140.1 306.6,136.9 309.9,135.0 Z" fill="#eb5767" stroke="#2a2a2a" stroke-width="1.2" stroke-linejoin="round" stroke-linecap="round" /></g><g filter="url(#rough)"><path d="M399.0,138.0 C402.2,134.8 406.5,134.3 410.0,133.0 C413.5,131.7 417.0,130.2 420.0,130.0 C423.0,129.8 425.5,130.2 428.0,131.5 C430.5,132.8 433.1,134.6 435.0,137.5 C436.9,140.4 438.4,144.4 439.5,149.0 C440.6,153.6 441.6,159.8 441.8,165.0 C442.1,170.2 441.8,175.0 441.0,180.0 C440.2,185.0 439.2,189.8 437.0,195.0 C434.8,200.2 431.2,206.3 428.0,211.0 C424.8,215.7 421.5,219.8 418.0,223.0 C414.5,226.2 410.2,228.4 407.0,230.0 C403.8,231.6 401.7,232.7 399.0,232.5 C396.3,232.3 393.2,231.1 391.0,229.0 C388.8,226.9 387.1,224.0 386.0,220.0 C384.9,216.0 384.5,210.0 384.3,205.0 C384.1,200.0 384.2,195.8 384.6,190.0 C385.1,184.2 385.9,176.3 387.0,170.0 C388.1,163.7 389.0,157.3 391.0,152.0 C393.0,146.7 395.8,141.2 399.0,138.0 Z" fill="none" stroke="#9a9a9a" stroke-width="4.0" stroke-linejoin="round" stroke-linecap="round" /><path d="M399.0,138.0 C402.2,134.8 406.5,134.3 410.0,133.0 C413.5,131.7 417.0,130.2 420.0,130.0 C423.0,129.8 425.5,130.2 428.0,131.5 C430.5,132.8 433.1,134.6 435.0,137.5 C436.9,140.4 438.4,144.4 439.5,149.0 C440.6,153.6 441.6,159.8 441.8,165.0 C442.1,170.2 441.8,175.0 441.0,180.0 C440.2,185.0 439.2,189.8 437.0,195.0 C434.8,200.2 431.2,206.3 428.0,211.0 C424.8,215.7 421.5,219.8 418.0,223.0 C414.5,226.2 410.2,228.4 407.0,230.0 C403.8,231.6 401.7,232.7 399.0,232.5 C396.3,232.3 393.2,231.1 391.0,229.0 C388.8,226.9 387.1,224.0 386.0,220.0 C384.9,216.0 384.5,210.0 384.3,205.0 C384.1,200.0 384.2,195.8 384.6,190.0 C385.1,184.2 385.9,176.3 387.0,170.0 C388.1,163.7 389.0,157.3 391.0,152.0 C393.0,146.7 395.8,141.2 399.0,138.0 Z" fill="none" stroke="#5a5a5a" stroke-width="2.6" stroke-linejoin="round" stroke-linecap="round" /><path d="M399.0,138.0 C402.2,134.8 406.5,134.3 410.0,133.0 C413.5,131.7 417.0,130.2 420.0,130.0 C423.0,129.8 425.5,130.2 428.0,131.5 C430.5,132.8 433.1,134.6 435.0,137.5 C436.9,140.4 438.4,144.4 439.5,149.0 C440.6,153.6 441.6,159.8 441.8,165.0 C442.1,170.2 441.8,175.0 441.0,180.0 C440.2,185.0 439.2,189.8 437.0,195.0 C434.8,200.2 431.2,206.3 428.0,211.0 C424.8,215.7 421.5,219.8 418.0,223.0 C414.5,226.2 410.2,228.4 407.0,230.0 C403.8,231.6 401.7,232.7 399.0,232.5 C396.3,232.3 393.2,231.1 391.0,229.0 C388.8,226.9 387.1,224.0 386.0,220.0 C384.9,216.0 384.5,210.0 384.3,205.0 C384.1,200.0 384.2,195.8 384.6,190.0 C385.1,184.2 385.9,176.3 387.0,170.0 C388.1,163.7 389.0,157.3 391.0,152.0 C393.0,146.7 395.8,141.2 399.0,138.0 Z" fill="#eb5767" stroke="#2a2a2a" stroke-width="1.1" stroke-linejoin="round" stroke-linecap="round" /></g><clipPath id="rc"><path d="M399.0,138.0 C402.2,134.8 406.5,134.3 410.0,133.0 C413.5,131.7 417.0,130.2 420.0,130.0 C423.0,129.8 425.5,130.2 428.0,131.5 C430.5,132.8 433.1,134.6 435.0,137.5 C436.9,140.4 438.4,144.4 439.5,149.0 C440.6,153.6 441.6,159.8 441.8,165.0 C442.1,170.2 441.8,175.0 441.0,180.0 C440.2,185.0 439.2,189.8 437.0,195.0 C434.8,200.2 431.2,206.3 428.0,211.0 C424.8,215.7 421.5,219.8 418.0,223.0 C414.5,226.2 410.2,228.4 407.0,230.0 C403.8,231.6 401.7,232.7 399.0,232.5 C396.3,232.3 393.2,231.1 391.0,229.0 C388.8,226.9 387.1,224.0 386.0,220.0 C384.9,216.0 384.5,210.0 384.3,205.0 C384.1,200.0 384.2,195.8 384.6,190.0 C385.1,184.2 385.9,176.3 387.0,170.0 C388.1,163.7 389.0,157.3 391.0,152.0 C393.0,146.7 395.8,141.2 399.0,138.0 Z"/></clipPath><clipPath id="lc"><path d="M309.9,135.0 C313.2,133.1 317.9,132.8 322.3,132.6 C326.7,132.4 332.9,132.3 336.5,133.8 C340.1,135.3 342.5,138.1 343.8,141.6 C345.1,145.1 345.6,150.9 344.5,154.8 C343.4,158.7 339.7,162.9 337.5,165.0 C335.3,167.1 332.7,165.0 331.5,167.5 C330.3,170.0 331.9,176.6 330.5,180.0 C329.1,183.4 326.0,186.4 323.0,188.2 C320.0,190.0 316.0,191.2 312.4,190.8 C308.8,190.4 303.9,188.5 301.2,185.5 C298.5,182.5 296.9,177.0 296.3,172.7 C295.7,168.4 296.5,164.2 297.5,159.5 C298.5,154.8 300.4,148.3 302.5,144.2 C304.6,140.1 306.6,136.9 309.9,135.0 Z"/></clipPath><g clip-path="url(#rc)" stroke="#c02a3c" stroke-width="0.9" fill="none"><path d="M407.4,133.0 C406.8,139.2 405.2,158.8 404.0,170.0 C402.8,181.2 401.0,189.7 400.0,200.0 C399.0,210.3 398.2,226.7 397.8,232.0" fill="none" stroke="#c02a3c" stroke-width="0.9" stroke-linejoin="round" stroke-linecap="round" /><path d="M414.2,133.0 C413.8,139.2 412.9,158.8 412.0,170.0 C411.1,181.2 409.6,192.4 409.0,200.0 C408.4,207.6 408.8,212.8 408.7,215.3" fill="none" stroke="#c02a3c" stroke-width="0.9" stroke-linejoin="round" stroke-linecap="round" /><path d="M415.6,163.3 C415.3,166.9 414.5,178.6 414.0,185.0 C413.5,191.4 413.0,198.8 412.8,201.6" fill="none" stroke="#c02a3c" stroke-width="0.9" stroke-linejoin="round" stroke-linecap="round" /></g><path d="M313.5,240.0 C314.7,237.7 317.8,229.5 320.5,226.0 C323.2,222.5 325.9,220.6 330.0,219.2 C334.1,217.8 339.7,218.4 345.0,217.8 C350.3,217.2 356.8,216.5 361.6,215.8 C366.4,215.1 370.0,212.7 373.9,213.7 C377.8,214.7 383.1,220.6 385.0,222.0" fill="none" stroke="#161616" stroke-width="1.4" stroke-linejoin="round" stroke-linecap="round" /><path d="M321.8,238.9 C322.9,234.3 324.9,231.5 327.4,228.8 C329.9,226.1 333.1,223.9 337.0,222.6 C340.9,221.3 345.8,221.4 350.6,220.8 C355.4,220.2 361.4,219.7 365.7,219.2 C370.0,218.7 373.2,215.7 376.6,217.8 C380.0,219.9 382.1,228.3 386.0,232.0 C389.9,235.7 395.2,238.7 400.0,240.0 C404.8,241.3 411.0,240.7 415.0,240.0 C419.0,239.3 421.2,234.9 423.9,235.9 C426.5,236.9 429.2,241.9 430.9,245.9 C432.6,249.9 433.7,254.8 433.9,259.8 C434.1,264.8 433.1,270.7 431.9,275.7 C430.7,280.7 429.2,283.8 426.9,289.7 C424.5,295.6 420.6,304.1 417.8,311.0 C415.0,317.9 413.4,325.2 409.9,331.0 C406.4,336.8 400.4,343.2 397.0,346.0 C393.6,348.8 392.2,348.0 389.2,348.0 C386.2,348.0 382.2,347.4 378.8,346.0 C375.4,344.6 371.7,342.2 368.5,339.6 C365.3,337.0 362.4,334.6 359.4,330.5 C356.4,326.4 353.4,319.5 350.3,315.0 C347.2,310.5 344.0,308.2 341.0,303.6 C338.0,299.0 335.3,292.4 332.4,287.4 C329.5,282.4 325.4,279.0 323.5,273.8 C321.6,268.6 321.2,262.2 320.9,256.4 C320.6,250.6 320.7,243.5 321.8,238.9 Z" fill="#fcfcfc" stroke="#161616" stroke-width="1.0" stroke-linejoin="round" stroke-linecap="round" /><path d="M309.9,223.7 C311.1,223.8 314.3,225.5 317.0,224.5 C319.7,223.5 323.6,219.8 326.0,217.8 C328.4,215.8 330.6,213.3 331.5,212.4" fill="none" stroke="#161616" stroke-width="1.3" stroke-linejoin="round" stroke-linecap="round" /><path d="M337.2,271.8 l0.8,3.4 M338.1,273.6 l-0.6,3.5 M340.1,286.8 l-0.8,3.1 M331.5,287.8 l0.4,2.6 M345.7,297.7 l0.3,3.7 M332.5,237.0 l0.1,2.6 M333.0,251.5 l-0.9,3.4 M337.0,289.9 l0.0,3.8 M338.0,278.4 l-0.1,3.1 M346.0,299.7 l0.7,3.9 M335.0,250.7 l-0.4,2.6 M342.3,261.6 l0.7,3.3 M345.3,290.2 l-1.0,2.9 M344.6,266.1 l1.0,3.3 M331.2,276.3 l0.6,3.0 M331.4,257.3 l0.9,4.0 M331.9,251.8 l-0.8,2.6 M342.8,247.4 l0.1,3.4 M403.7,306.1 l-0.7,3.8 M401.5,289.9 l-0.6,3.0 M427.1,309.8 l-0.4,4.3 M404.3,288.5 l0.7,3.8 M401.0,319.4 l-0.6,3.0 M421.2,285.1 l-0.4,2.6 M400.7,298.3 l-0.5,3.7 M409.2,291.6 l0.9,3.5 M415.2,313.1 l-0.6,2.8 M425.3,310.5 l-0.5,2.9 M420.2,316.9 l-0.6,4.4 M424.5,299.4 l-0.2,2.7 M399.2,318.1 l-0.5,3.9 M405.7,310.8 l0.2,3.1 M403.3,305.5 l-0.9,3.0 M366.7,329.8 l0.2,3.1 M371.0,307.1 l-1.0,3.0 M365.3,302.1 l-0.6,3.2 M366.9,304.6 l-0.3,4.3 M371.8,323.0 l0.4,3.7 M361.7,301.2 l-1.0,4.3 M405.5,337.3 l-1.0,3.8 M402.2,332.6 l-0.4,4.5 M396.1,328.9 l0.5,4.3 M406.1,332.1 l0.6,4.3 M400.3,331.7 l0.8,4.2 M401.3,333.8 l0.7,3.6 M404.4,325.6 l0.2,3.7 M396.2,330.8 l1.0,4.3 M405.9,325.8 l0.5,3.7 M427.6,258.4 l-0.8,4.0 M425.2,253.2 l-0.0,3.0 M429.2,250.9 l0.2,4.3 M426.5,240.2 l-0.4,3.9 M426.2,243.7 l0.8,3.8 M427.7,259.6 l-0.3,3.8 M340.8,307.8 l0.6,4.3 M350.3,306.9 l0.2,3.1 M339.9,308.9 l0.7,4.2 M348.0,317.1 l-0.4,2.8 M344.3,305.0 l-0.6,3.3 M346.8,308.9 l-0.4,4.2" stroke="#8a8a8a" stroke-width="0.7" fill="none"/><g filter="url(#rough)"><path d="M350.4,227.0 C351.6,225.9 357.3,222.2 359.4,221.7 C361.5,221.2 366.8,221.9 368.4,222.5 C370.0,223.1 371.8,225.8 372.8,227.0 C373.8,228.2 376.1,231.4 376.6,233.0 C377.1,234.6 376.7,238.9 377.3,240.4 C377.9,241.9 380.4,244.6 381.8,245.6 C383.2,246.6 387.2,248.3 389.3,248.6 C391.4,248.9 397.4,248.1 399.7,247.9 C402.0,247.7 406.8,247.3 408.7,247.1 C410.6,246.9 414.6,246.1 416.1,246.4 C417.6,246.7 420.6,248.3 421.3,249.3 C422.0,250.3 422.2,254.1 422.1,255.3 C422.0,256.5 420.7,258.9 420.6,259.8 C420.5,260.7 421.5,262.4 421.0,263.0 C420.5,263.6 417.7,264.3 416.1,264.6 C414.5,264.9 408.9,265.5 407.2,265.8 C405.5,266.1 401.8,266.4 401.6,267.5 C401.4,268.6 404.2,272.3 405.3,274.9 C406.4,277.5 409.8,286.9 410.9,289.9 C412.0,292.9 414.3,299.1 414.6,301.0 C414.9,302.9 414.1,306.2 413.7,306.6 C413.3,307.0 411.7,306.1 410.9,304.8 C410.1,303.5 408.3,298.0 407.2,295.4 C406.1,292.8 403.1,285.2 401.6,282.4 C400.1,279.6 395.3,272.1 394.1,271.2 C392.9,270.3 391.6,273.2 391.3,274.9 C391.0,276.6 391.4,282.8 391.3,286.1 C391.2,289.4 390.1,299.2 390.4,302.9 C390.7,306.6 393.9,314.9 394.1,317.8 C394.3,320.7 393.1,326.8 392.2,328.1 C391.3,329.4 387.7,329.8 386.6,329.0 C385.5,328.2 383.1,323.8 382.9,321.6 C382.7,319.4 384.8,312.1 384.8,310.4 C384.8,308.6 383.6,305.7 382.9,306.6 C382.2,307.5 380.1,315.7 379.2,317.8 C378.3,319.9 376.3,324.0 375.4,324.4 C374.5,324.8 372.6,323.2 371.7,321.6 C370.8,320.0 368.0,313.0 368.0,310.4 C368.0,307.8 370.9,302.5 371.7,299.2 C372.5,295.9 374.1,286.1 374.5,282.4 C374.9,278.7 375.5,269.0 375.4,267.5 C375.3,266.0 374.2,267.8 373.6,269.3 C373.0,270.8 370.9,278.1 369.9,280.5 C368.9,282.9 366.1,287.7 365.2,289.9 C364.3,292.1 363.2,298.0 362.4,299.2 C361.6,300.4 359.5,300.8 358.7,300.1 C357.9,299.4 356.3,295.4 355.9,293.6 C355.5,291.8 355.6,285.8 354.9,284.3 C354.2,282.8 351.2,282.0 350.3,280.5 C349.4,279.0 347.4,273.2 347.5,271.2 C347.6,269.2 350.8,264.7 351.5,263.0 C352.2,261.3 353.7,258.2 353.4,256.8 C353.1,255.4 349.9,252.7 349.0,250.8 C348.1,248.9 346.0,242.7 346.0,240.4 C346.0,238.1 348.5,233.0 349.0,231.4 C349.5,229.8 349.2,228.1 350.4,227.0 Z" fill="none" stroke="#9a9a9a" stroke-width="6.2" stroke-linejoin="round" stroke-linecap="round" /><path d="M350.4,227.0 C351.6,225.9 357.3,222.2 359.4,221.7 C361.5,221.2 366.8,221.9 368.4,222.5 C370.0,223.1 371.8,225.8 372.8,227.0 C373.8,228.2 376.1,231.4 376.6,233.0 C377.1,234.6 376.7,238.9 377.3,240.4 C377.9,241.9 380.4,244.6 381.8,245.6 C383.2,246.6 387.2,248.3 389.3,248.6 C391.4,248.9 397.4,248.1 399.7,247.9 C402.0,247.7 406.8,247.3 408.7,247.1 C410.6,246.9 414.6,246.1 416.1,246.4 C417.6,246.7 420.6,248.3 421.3,249.3 C422.0,250.3 422.2,254.1 422.1,255.3 C422.0,256.5 420.7,258.9 420.6,259.8 C420.5,260.7 421.5,262.4 421.0,263.0 C420.5,263.6 417.7,264.3 416.1,264.6 C414.5,264.9 408.9,265.5 407.2,265.8 C405.5,266.1 401.8,266.4 401.6,267.5 C401.4,268.6 404.2,272.3 405.3,274.9 C406.4,277.5 409.8,286.9 410.9,289.9 C412.0,292.9 414.3,299.1 414.6,301.0 C414.9,302.9 414.1,306.2 413.7,306.6 C413.3,307.0 411.7,306.1 410.9,304.8 C410.1,303.5 408.3,298.0 407.2,295.4 C406.1,292.8 403.1,285.2 401.6,282.4 C400.1,279.6 395.3,272.1 394.1,271.2 C392.9,270.3 391.6,273.2 391.3,274.9 C391.0,276.6 391.4,282.8 391.3,286.1 C391.2,289.4 390.1,299.2 390.4,302.9 C390.7,306.6 393.9,314.9 394.1,317.8 C394.3,320.7 393.1,326.8 392.2,328.1 C391.3,329.4 387.7,329.8 386.6,329.0 C385.5,328.2 383.1,323.8 382.9,321.6 C382.7,319.4 384.8,312.1 384.8,310.4 C384.8,308.6 383.6,305.7 382.9,306.6 C382.2,307.5 380.1,315.7 379.2,317.8 C378.3,319.9 376.3,324.0 375.4,324.4 C374.5,324.8 372.6,323.2 371.7,321.6 C370.8,320.0 368.0,313.0 368.0,310.4 C368.0,307.8 370.9,302.5 371.7,299.2 C372.5,295.9 374.1,286.1 374.5,282.4 C374.9,278.7 375.5,269.0 375.4,267.5 C375.3,266.0 374.2,267.8 373.6,269.3 C373.0,270.8 370.9,278.1 369.9,280.5 C368.9,282.9 366.1,287.7 365.2,289.9 C364.3,292.1 363.2,298.0 362.4,299.2 C361.6,300.4 359.5,300.8 358.7,300.1 C357.9,299.4 356.3,295.4 355.9,293.6 C355.5,291.8 355.6,285.8 354.9,284.3 C354.2,282.8 351.2,282.0 350.3,280.5 C349.4,279.0 347.4,273.2 347.5,271.2 C347.6,269.2 350.8,264.7 351.5,263.0 C352.2,261.3 353.7,258.2 353.4,256.8 C353.1,255.4 349.9,252.7 349.0,250.8 C348.1,248.9 346.0,242.7 346.0,240.4 C346.0,238.1 348.5,233.0 349.0,231.4 C349.5,229.8 349.2,228.1 350.4,227.0 Z" fill="none" stroke="#555" stroke-width="3.8" stroke-linejoin="round" stroke-linecap="round" /><path d="M350.4,227.0 C351.6,225.9 357.3,222.2 359.4,221.7 C361.5,221.2 366.8,221.9 368.4,222.5 C370.0,223.1 371.8,225.8 372.8,227.0 C373.8,228.2 376.1,231.4 376.6,233.0 C377.1,234.6 376.7,238.9 377.3,240.4 C377.9,241.9 380.4,244.6 381.8,245.6 C383.2,246.6 387.2,248.3 389.3,248.6 C391.4,248.9 397.4,248.1 399.7,247.9 C402.0,247.7 406.8,247.3 408.7,247.1 C410.6,246.9 414.6,246.1 416.1,246.4 C417.6,246.7 420.6,248.3 421.3,249.3 C422.0,250.3 422.2,254.1 422.1,255.3 C422.0,256.5 420.7,258.9 420.6,259.8 C420.5,260.7 421.5,262.4 421.0,263.0 C420.5,263.6 417.7,264.3 416.1,264.6 C414.5,264.9 408.9,265.5 407.2,265.8 C405.5,266.1 401.8,266.4 401.6,267.5 C401.4,268.6 404.2,272.3 405.3,274.9 C406.4,277.5 409.8,286.9 410.9,289.9 C412.0,292.9 414.3,299.1 414.6,301.0 C414.9,302.9 414.1,306.2 413.7,306.6 C413.3,307.0 411.7,306.1 410.9,304.8 C410.1,303.5 408.3,298.0 407.2,295.4 C406.1,292.8 403.1,285.2 401.6,282.4 C400.1,279.6 395.3,272.1 394.1,271.2 C392.9,270.3 391.6,273.2 391.3,274.9 C391.0,276.6 391.4,282.8 391.3,286.1 C391.2,289.4 390.1,299.2 390.4,302.9 C390.7,306.6 393.9,314.9 394.1,317.8 C394.3,320.7 393.1,326.8 392.2,328.1 C391.3,329.4 387.7,329.8 386.6,329.0 C385.5,328.2 383.1,323.8 382.9,321.6 C382.7,319.4 384.8,312.1 384.8,310.4 C384.8,308.6 383.6,305.7 382.9,306.6 C382.2,307.5 380.1,315.7 379.2,317.8 C378.3,319.9 376.3,324.0 375.4,324.4 C374.5,324.8 372.6,323.2 371.7,321.6 C370.8,320.0 368.0,313.0 368.0,310.4 C368.0,307.8 370.9,302.5 371.7,299.2 C372.5,295.9 374.1,286.1 374.5,282.4 C374.9,278.7 375.5,269.0 375.4,267.5 C375.3,266.0 374.2,267.8 373.6,269.3 C373.0,270.8 370.9,278.1 369.9,280.5 C368.9,282.9 366.1,287.7 365.2,289.9 C364.3,292.1 363.2,298.0 362.4,299.2 C361.6,300.4 359.5,300.8 358.7,300.1 C357.9,299.4 356.3,295.4 355.9,293.6 C355.5,291.8 355.6,285.8 354.9,284.3 C354.2,282.8 351.2,282.0 350.3,280.5 C349.4,279.0 347.4,273.2 347.5,271.2 C347.6,269.2 350.8,264.7 351.5,263.0 C352.2,261.3 353.7,258.2 353.4,256.8 C353.1,255.4 349.9,252.7 349.0,250.8 C348.1,248.9 346.0,242.7 346.0,240.4 C346.0,238.1 348.5,233.0 349.0,231.4 C349.5,229.8 349.2,228.1 350.4,227.0 Z" fill="#ec5a6d" stroke="#2e2e2e" stroke-width="1.0" stroke-linejoin="round" stroke-linecap="round" /></g><clipPath id="vc"><path d="M350.4,227.0 C351.6,225.9 357.3,222.2 359.4,221.7 C361.5,221.2 366.8,221.9 368.4,222.5 C370.0,223.1 371.8,225.8 372.8,227.0 C373.8,228.2 376.1,231.4 376.6,233.0 C377.1,234.6 376.7,238.9 377.3,240.4 C377.9,241.9 380.4,244.6 381.8,245.6 C383.2,246.6 387.2,248.3 389.3,248.6 C391.4,248.9 397.4,248.1 399.7,247.9 C402.0,247.7 406.8,247.3 408.7,247.1 C410.6,246.9 414.6,246.1 416.1,246.4 C417.6,246.7 420.6,248.3 421.3,249.3 C422.0,250.3 422.2,254.1 422.1,255.3 C422.0,256.5 420.7,258.9 420.6,259.8 C420.5,260.7 421.5,262.4 421.0,263.0 C420.5,263.6 417.7,264.3 416.1,264.6 C414.5,264.9 408.9,265.5 407.2,265.8 C405.5,266.1 401.8,266.4 401.6,267.5 C401.4,268.6 404.2,272.3 405.3,274.9 C406.4,277.5 409.8,286.9 410.9,289.9 C412.0,292.9 414.3,299.1 414.6,301.0 C414.9,302.9 414.1,306.2 413.7,306.6 C413.3,307.0 411.7,306.1 410.9,304.8 C410.1,303.5 408.3,298.0 407.2,295.4 C406.1,292.8 403.1,285.2 401.6,282.4 C400.1,279.6 395.3,272.1 394.1,271.2 C392.9,270.3 391.6,273.2 391.3,274.9 C391.0,276.6 391.4,282.8 391.3,286.1 C391.2,289.4 390.1,299.2 390.4,302.9 C390.7,306.6 393.9,314.9 394.1,317.8 C394.3,320.7 393.1,326.8 392.2,328.1 C391.3,329.4 387.7,329.8 386.6,329.0 C385.5,328.2 383.1,323.8 382.9,321.6 C382.7,319.4 384.8,312.1 384.8,310.4 C384.8,308.6 383.6,305.7 382.9,306.6 C382.2,307.5 380.1,315.7 379.2,317.8 C378.3,319.9 376.3,324.0 375.4,324.4 C374.5,324.8 372.6,323.2 371.7,321.6 C370.8,320.0 368.0,313.0 368.0,310.4 C368.0,307.8 370.9,302.5 371.7,299.2 C372.5,295.9 374.1,286.1 374.5,282.4 C374.9,278.7 375.5,269.0 375.4,267.5 C375.3,266.0 374.2,267.8 373.6,269.3 C373.0,270.8 370.9,278.1 369.9,280.5 C368.9,282.9 366.1,287.7 365.2,289.9 C364.3,292.1 363.2,298.0 362.4,299.2 C361.6,300.4 359.5,300.8 358.7,300.1 C357.9,299.4 356.3,295.4 355.9,293.6 C355.5,291.8 355.6,285.8 354.9,284.3 C354.2,282.8 351.2,282.0 350.3,280.5 C349.4,279.0 347.4,273.2 347.5,271.2 C347.6,269.2 350.8,264.7 351.5,263.0 C352.2,261.3 353.7,258.2 353.4,256.8 C353.1,255.4 349.9,252.7 349.0,250.8 C348.1,248.9 346.0,242.7 346.0,240.4 C346.0,238.1 348.5,233.0 349.0,231.4 C349.5,229.8 349.2,228.1 350.4,227.0 Z"/></clipPath><path d="M320.5,77.8 C322.2,78.2 327.1,78.9 330.9,80.5 C334.7,82.1 339.0,84.8 343.1,87.4 C347.2,90.0 352.1,93.2 355.3,96.1 C358.5,99.0 360.6,102.1 362.3,104.8 C364.0,107.5 364.1,109.7 365.3,112.0 C366.6,114.3 368.2,117.1 369.8,118.5 C371.4,119.9 374.1,120.2 375.0,120.5 L358.6,134.9 C358.2,132.9 358.0,126.5 356.3,122.9 C354.6,119.4 351.1,116.6 348.3,113.6 C345.5,110.6 342.8,107.7 339.6,104.8 C336.4,101.9 332.7,98.1 329.2,96.1 C325.7,94.1 320.4,93.2 318.7,92.6 Z" fill="url(#stip)" stroke="none" stroke-width="0" stroke-linejoin="round" stroke-linecap="round" /><path d="M433.7,76.9 C431.7,77.6 425.7,79.2 421.7,80.9 C417.7,82.6 413.4,84.6 409.8,86.9 C406.2,89.2 402.6,92.1 399.9,94.9 C397.2,97.8 395.5,101.3 393.7,104.0 C391.9,106.7 390.7,108.8 389.2,111.0 C387.7,113.2 386.6,115.4 384.7,117.0 C382.8,118.6 379.6,119.9 378.0,120.5 C376.4,121.1 375.5,120.5 375.0,120.5 L387.7,139.3 C387.9,138.1 387.7,135.1 389.2,131.9 C390.7,128.7 393.8,123.4 396.6,119.9 C399.4,116.4 402.6,113.7 405.8,111.0 C409.0,108.3 412.5,106.0 415.8,103.8 C419.1,101.6 422.1,99.6 425.7,97.8 C429.3,96.0 435.7,93.7 437.7,92.9 Z" fill="url(#stip)" stroke="none" stroke-width="0" stroke-linejoin="round" stroke-linecap="round" /><clipPath id="tl"><path d="M320.5,77.8 C322.2,78.2 327.1,78.9 330.9,80.5 C334.7,82.1 339.0,84.8 343.1,87.4 C347.2,90.0 352.1,93.2 355.3,96.1 C358.5,99.0 360.6,102.1 362.3,104.8 C364.0,107.5 364.1,109.7 365.3,112.0 C366.6,114.3 368.2,117.1 369.8,118.5 C371.4,119.9 374.1,120.2 375.0,120.5 L358.6,134.9 C358.2,132.9 358.0,126.5 356.3,122.9 C354.6,119.4 351.1,116.6 348.3,113.6 C345.5,110.6 342.8,107.7 339.6,104.8 C336.4,101.9 332.7,98.1 329.2,96.1 C325.7,94.1 320.4,93.2 318.7,92.6 Z"/></clipPath><clipPath id="tr"><path d="M433.7,76.9 C431.7,77.6 425.7,79.2 421.7,80.9 C417.7,82.6 413.4,84.6 409.8,86.9 C406.2,89.2 402.6,92.1 399.9,94.9 C397.2,97.8 395.5,101.3 393.7,104.0 C391.9,106.7 390.7,108.8 389.2,111.0 C387.7,113.2 386.6,115.4 384.7,117.0 C382.8,118.6 379.6,119.9 378.0,120.5 C376.4,121.1 375.5,120.5 375.0,120.5 L387.7,139.3 C387.9,138.1 387.7,135.1 389.2,131.9 C390.7,128.7 393.8,123.4 396.6,119.9 C399.4,116.4 402.6,113.7 405.8,111.0 C409.0,108.3 412.5,106.0 415.8,103.8 C419.1,101.6 422.1,99.6 425.7,97.8 C429.3,96.0 435.7,93.7 437.7,92.9 Z"/></clipPath><path d="M318.7,92.6 C320.4,93.2 325.7,94.1 329.2,96.1 C332.7,98.1 336.4,101.9 339.6,104.8 C342.8,107.7 345.5,110.6 348.3,113.6 C351.1,116.6 354.6,119.4 356.3,122.9 C358.0,126.5 358.2,132.9 358.6,134.9" fill="none" stroke="url(#stipD)" stroke-width="9" stroke-linejoin="round" stroke-linecap="round" clip-path="url(#tl)"/><path d="M437.7,92.9 C435.7,93.7 429.3,96.0 425.7,97.8 C422.1,99.6 419.1,101.6 415.8,103.8 C412.5,106.0 409.0,108.3 405.8,111.0 C402.6,113.7 399.4,116.4 396.6,119.9 C393.8,123.4 390.7,128.7 389.2,131.9 C387.7,135.1 387.9,138.1 387.7,139.3" fill="none" stroke="url(#stipD)" stroke-width="9" stroke-linejoin="round" stroke-linecap="round" clip-path="url(#tr)"/><path d="M320.5,77.8 C322.2,78.2 327.1,78.9 330.9,80.5 C334.7,82.1 339.0,84.8 343.1,87.4 C347.2,90.0 352.1,93.2 355.3,96.1 C358.5,99.0 360.6,102.1 362.3,104.8 C364.0,107.5 364.1,109.7 365.3,112.0 C366.6,114.3 368.2,117.1 369.8,118.5 C371.4,119.9 374.1,120.2 375.0,120.5" fill="none" stroke="url(#stipD2)" stroke-width="4" stroke-linejoin="round" stroke-linecap="round" clip-path="url(#tl)"/><path d="M433.7,76.9 C431.7,77.6 425.7,79.2 421.7,80.9 C417.7,82.6 413.4,84.6 409.8,86.9 C406.2,89.2 402.6,92.1 399.9,94.9 C397.2,97.8 395.5,101.3 393.7,104.0 C391.9,106.7 390.7,108.8 389.2,111.0 C387.7,113.2 386.6,115.4 384.7,117.0 C382.8,118.6 379.6,119.9 378.0,120.5 C376.4,121.1 375.5,120.5 375.0,120.5" fill="none" stroke="url(#stipD2)" stroke-width="4" stroke-linejoin="round" stroke-linecap="round" clip-path="url(#tr)"/><path d="M320.5,77.8 C322.2,78.2 327.1,78.9 330.9,80.5 C334.7,82.1 339.0,84.8 343.1,87.4 C347.2,90.0 352.1,93.2 355.3,96.1 C358.5,99.0 360.6,102.1 362.3,104.8 C364.0,107.5 364.1,109.7 365.3,112.0 C366.6,114.3 368.2,117.1 369.8,118.5 C371.4,119.9 374.1,120.2 375.0,120.5" fill="none" stroke="#161616" stroke-width="1.4" stroke-linejoin="round" stroke-linecap="round" /><path d="M318.7,92.6 C320.4,93.2 325.7,94.1 329.2,96.1 C332.7,98.1 336.4,101.9 339.6,104.8 C342.8,107.7 345.5,110.6 348.3,113.6 C351.1,116.6 354.6,119.4 356.3,122.9 C358.0,126.5 358.2,132.9 358.6,134.9" fill="none" stroke="#161616" stroke-width="1.4" stroke-linejoin="round" stroke-linecap="round" /><path d="M433.7,76.9 C431.7,77.6 425.7,79.2 421.7,80.9 C417.7,82.6 413.4,84.6 409.8,86.9 C406.2,89.2 402.6,92.1 399.9,94.9 C397.2,97.8 395.5,101.3 393.7,104.0 C391.9,106.7 390.7,108.8 389.2,111.0 C387.7,113.2 386.6,115.4 384.7,117.0 C382.8,118.6 379.6,119.9 378.0,120.5 C376.4,121.1 375.5,120.5 375.0,120.5" fill="none" stroke="#161616" stroke-width="1.4" stroke-linejoin="round" stroke-linecap="round" /><path d="M437.7,92.9 C435.7,93.7 429.3,96.0 425.7,97.8 C422.1,99.6 419.1,101.6 415.8,103.8 C412.5,106.0 409.0,108.3 405.8,111.0 C402.6,113.7 399.4,116.4 396.6,119.9 C393.8,123.4 390.7,128.7 389.2,131.9 C387.7,135.1 387.9,138.1 387.7,139.3" fill="none" stroke="#161616" stroke-width="1.4" stroke-linejoin="round" stroke-linecap="round" /><g transform="translate(319.8 84.3) rotate(20)"><ellipse rx="5.8" ry="7" fill="#d6d6d6" stroke="#333" stroke-width="0.9"/><ellipse rx="4" ry="5.2" fill="none" stroke="#777" stroke-width="0.9"/><ellipse rx="2.2" ry="3.2" fill="none" stroke="#666" stroke-width="0.9"/><ellipse rx="0.8" ry="1.4" fill="#888"/></g><g transform="translate(437.5 84) rotate(-15)"><ellipse rx="5.8" ry="7" fill="#d6d6d6" stroke="#333" stroke-width="0.9"/><ellipse rx="4" ry="5.2" fill="none" stroke="#777" stroke-width="0.9"/><ellipse rx="2.2" ry="3.2" fill="none" stroke="#666" stroke-width="0.9"/><ellipse rx="0.8" ry="1.4" fill="#888"/></g><path d="M362.0,138.0 C364.8,133.3 370.3,131.7 375.0,132.0 C379.7,132.3 387.8,134.5 390.0,140.0 C392.2,145.5 389.7,156.7 388.0,165.0 C386.3,173.3 383.3,184.2 380.0,190.0 C376.7,195.8 372.0,199.0 368.0,200.0 C364.0,201.0 358.7,199.3 356.0,196.0 C353.3,192.7 351.7,186.0 352.0,180.0 C352.3,174.0 356.3,167.0 358.0,160.0 C359.7,153.0 359.2,142.7 362.0,138.0 Z" fill="url(#stipD2)" stroke="none" stroke-width="0" stroke-linejoin="round" stroke-linecap="round" /><path d="M360.8,118.4 C361.7,120.4 361.9,129.7 361.6,134.9 C361.4,140.1 360.4,144.8 359.3,149.8 C358.2,154.8 356.6,160.8 354.9,165.0 C353.2,169.2 351.6,169.8 348.9,174.9 C346.1,180.0 340.9,192.1 338.4,195.8 C335.9,199.5 332.8,200.8 334.0,197.3 C335.2,193.8 342.7,180.3 345.9,174.9 C349.1,169.5 351.4,169.2 353.4,165.0 C355.4,160.8 356.9,154.8 357.8,149.8 C358.7,144.8 358.9,139.4 358.6,134.9 C358.4,130.4 355.9,125.7 356.3,122.9 C356.7,120.2 359.9,116.4 360.8,118.4 Z" fill="#fff" stroke="none" stroke-width="0" stroke-linejoin="round" stroke-linecap="round" /><path d="M366.0,131.0 C367.2,128.3 371.2,128.8 374.3,128.9 C377.4,129.1 382.2,130.4 384.7,131.9 C387.2,133.4 389.0,134.8 389.2,137.8 C389.4,140.8 387.8,147.2 386.0,150.0 C384.2,152.8 381.4,153.6 378.7,154.3 C376.0,155.0 371.8,155.9 369.8,154.3 C367.8,152.8 367.4,148.9 366.8,145.0 C366.2,141.1 364.8,133.7 366.0,131.0 Z" fill="#fbfbfb" stroke="none" stroke-width="0" stroke-linejoin="round" stroke-linecap="round" /><path d="M384.7,160.0 C382.6,162.5 377.2,169.9 375.0,174.9 C372.8,179.9 372.9,185.7 371.3,189.9 C369.7,194.1 368.0,197.3 365.3,200.3 C362.6,203.3 358.9,206.1 354.9,207.8 C350.9,209.5 344.9,210.7 341.4,210.7 C337.9,210.7 336.0,208.8 334.0,207.8 C332.0,206.8 329.5,204.3 329.5,204.8 C329.5,205.3 331.8,209.2 334.0,210.7 C336.2,212.2 338.9,213.7 342.9,213.7 C346.9,213.7 353.6,212.7 357.8,210.7 C362.0,208.7 365.6,205.3 368.3,201.8 C371.1,198.3 372.8,194.4 374.3,189.9 C375.8,185.4 375.0,179.9 377.2,174.9 C379.4,169.9 386.4,162.5 387.7,160.0 C388.9,157.5 386.8,157.5 384.7,160.0 Z" fill="#fff" stroke="none" stroke-width="0" stroke-linejoin="round" stroke-linecap="round" /><path d="M356.3,122.9 C356.7,124.9 358.4,130.4 358.6,134.9 C358.9,139.4 358.7,144.8 357.8,149.8 C356.9,154.8 355.4,160.8 353.4,165.0 C351.4,169.2 349.1,169.5 345.9,174.9 C342.7,180.3 336.0,193.6 334.0,197.3" fill="none" stroke="#161616" stroke-width="1.0" stroke-linejoin="round" stroke-linecap="round" /><path d="M360.8,118.4 C360.9,121.2 361.9,129.7 361.6,134.9 C361.4,140.1 360.4,144.8 359.3,149.8 C358.2,154.8 356.6,160.8 354.9,165.0 C353.2,169.2 351.6,169.8 348.9,174.9 C346.1,180.0 340.1,192.3 338.4,195.8" fill="none" stroke="#161616" stroke-width="1.0" stroke-linejoin="round" stroke-linecap="round" /><path d="M365.3,112.0 C365.8,113.0 367.2,115.4 368.5,118.0 C369.8,120.6 372.2,124.6 372.8,127.4 C373.4,130.2 372.1,133.7 372.0,134.9" fill="none" stroke="#161616" stroke-width="1.0" stroke-linejoin="round" stroke-linecap="round" /><path d="M366.8,114.0 C367.8,115.2 371.6,118.9 372.8,121.4 C374.1,123.9 374.1,127.7 374.3,128.9" fill="none" stroke="#161616" stroke-width="1.0" stroke-linejoin="round" stroke-linecap="round" /><path d="M374.3,128.9 C376.0,129.4 382.2,130.4 384.7,131.9 C387.2,133.4 388.4,136.8 389.2,137.8" fill="none" stroke="#161616" stroke-width="1.0" stroke-linejoin="round" stroke-linecap="round" /><path d="M359.3,152.8 C361.1,153.1 367.1,154.3 369.8,154.3 C372.5,154.3 374.2,152.8 375.7,152.8 C377.2,152.8 376.2,153.6 378.7,154.3 C381.2,155.0 388.7,156.7 390.7,157.2" fill="none" stroke="#161616" stroke-width="1.0" stroke-linejoin="round" stroke-linecap="round" /><path d="M362.3,133.4 C362.9,133.0 364.7,131.2 366.0,131.0 C367.3,130.8 368.6,132.3 370.0,132.0 C371.4,131.7 373.6,129.4 374.3,128.9" fill="none" stroke="#161616" stroke-width="1.0" stroke-linejoin="round" stroke-linecap="round" /><path d="M366.8,134.0 C367.0,135.8 368.0,141.7 368.0,145.0 C368.0,148.3 367.2,152.5 367.0,154.0" fill="none" stroke="#161616" stroke-width="1.0" stroke-linejoin="round" stroke-linecap="round" /><path d="M387.7,160.0 C385.9,162.5 379.4,169.9 377.2,174.9 C375.0,179.9 375.8,185.4 374.3,189.9 C372.8,194.4 371.1,198.3 368.3,201.8 C365.6,205.3 362.0,208.7 357.8,210.7 C353.6,212.7 346.9,213.7 342.9,213.7 C338.9,213.7 336.2,212.2 334.0,210.7 C331.8,209.2 330.2,205.8 329.5,204.8" fill="none" stroke="#161616" stroke-width="1.0" stroke-linejoin="round" stroke-linecap="round" /><path d="M384.7,160.0 C383.1,162.5 377.2,169.9 375.0,174.9 C372.8,179.9 372.9,185.7 371.3,189.9 C369.7,194.1 368.0,197.3 365.3,200.3 C362.6,203.3 358.9,206.1 354.9,207.8 C350.9,209.5 344.9,210.7 341.4,210.7 C337.9,210.7 335.2,208.3 334.0,207.8" fill="none" stroke="#161616" stroke-width="1.0" stroke-linejoin="round" stroke-linecap="round" /><path d="M374.3,160.0 C373.6,162.0 372.3,168.2 369.8,171.9 C367.3,175.6 361.8,179.9 359.3,182.4 C356.8,184.9 357.1,185.2 354.9,186.9 C352.7,188.6 347.6,190.3 345.9,192.8 C344.1,195.3 344.6,200.3 344.4,201.8" fill="none" stroke="#161616" stroke-width="1.0" stroke-linejoin="round" stroke-linecap="round" /><path d="M354.9,160.0 C355.1,163.7 356.8,175.4 356.3,182.4 C355.8,189.4 352.6,198.6 351.9,201.8" fill="none" stroke="#161616" stroke-width="1.0" stroke-linejoin="round" stroke-linecap="round" /><path d="M386.0,232.0 C387.0,233.3 390.0,237.7 392.0,240.0 C394.0,242.3 397.0,245.0 398.0,246.0" fill="none" stroke="#161616" stroke-width="1.0" stroke-linejoin="round" stroke-linecap="round" /><path d="M305.0,197.0 C305.5,195.3 307.3,194.6 309.0,194.0 C310.7,193.4 313.0,193.3 315.0,193.5 C317.0,193.7 319.7,194.1 321.0,195.0 C322.3,195.9 323.0,197.5 323.0,199.0 C323.0,200.5 322.0,202.5 321.0,204.0 C320.0,205.5 318.7,207.3 317.0,208.0 C315.3,208.7 312.8,208.7 311.0,208.0 C309.2,207.3 307.0,205.8 306.0,204.0 C305.0,202.2 304.5,198.7 305.0,197.0 Z" fill="#fbfbfb" stroke="#161616" stroke-width="1.3" stroke-linejoin="round" stroke-linecap="round" /><path d="M309.0,201.0 C309.5,199.9 311.7,199.1 313.0,199.0 C314.3,198.9 316.2,199.5 317.0,200.5 C317.8,201.5 318.5,203.8 318.0,205.0 C317.5,206.2 315.3,207.4 314.0,207.5 C312.7,207.6 310.8,206.6 310.0,205.5 C309.2,204.4 308.5,202.1 309.0,201.0 Z" fill="none" stroke="#333" stroke-width="1.0" stroke-linejoin="round" stroke-linecap="round" /><path d="M306.0,197.0 C306.7,196.6 308.7,194.8 310.0,194.5 C311.3,194.2 313.3,194.9 314.0,195.0" fill="none" stroke="#222" stroke-width="1.6" stroke-linejoin="round" stroke-linecap="round" /><path d="M321.0,195.0 C320.2,196.7 317.3,201.8 316.0,205.0 C314.7,208.2 313.5,212.5 313.0,214.0" fill="none" stroke="#161616" stroke-width="0.9" stroke-linejoin="round" stroke-linecap="round" /><path d="M325.0,194.0 C324.2,195.8 321.3,201.5 320.0,205.0 C318.7,208.5 317.5,213.3 317.0,215.0" fill="none" stroke="#161616" stroke-width="0.9" stroke-linejoin="round" stroke-linecap="round" /><path d="M329.0,193.0 C328.2,194.8 325.3,200.5 324.0,204.0 C322.7,207.5 321.5,212.3 321.0,214.0" fill="none" stroke="#161616" stroke-width="0.9" stroke-linejoin="round" stroke-linecap="round" /><path d="M297.5,196.2 C298.1,198.0 299.6,203.7 301.0,207.0 C302.4,210.3 305.3,214.6 306.2,216.1" fill="none" stroke="#161616" stroke-width="0.9" stroke-linejoin="round" stroke-linecap="round" /><g stroke="#161616" stroke-width="1.6"><line x1="278.7" y1="71.2" x2="314.2" y2="81.8"/><line x1="278.7" y1="86.8" x2="318.6" y2="86.2"/><line x1="278.7" y1="106.1" x2="321" y2="89.3"/><line x1="463.6" y1="70" x2="442.4" y2="79.9"/><line x1="464.9" y1="87.4" x2="440" y2="85.5"/><line x1="462.4" y1="108.6" x2="437.5" y2="89.3"/><line x1="266.5" y1="129.7" x2="312.8" y2="145.4"/><line x1="268" y1="144.6" x2="352" y2="171.5"/><line x1="268.5" y1="175.5" x2="356.6" y2="174.4"/><line x1="268.5" y1="197" x2="343.5" y2="190.8"/><line x1="266.5" y1="225" x2="360.5" y2="199.7"/><line x1="466.2" y1="134.6" x2="421" y2="152.4"/><line x1="466.2" y1="151" x2="400.5" y2="160.6"/><line x1="466.2" y1="166" x2="414.2" y2="177"/><line x1="466.2" y1="182.5" x2="423.8" y2="190.7"/><line x1="466.2" y1="197.5" x2="392.3" y2="204.3"/><line x1="466.2" y1="213.9" x2="399" y2="241.9"/><line x1="466.7" y1="285.6" x2="387" y2="262.8"/></g><g stroke="#b52234" stroke-width="1.2" clip-path="url(#rc)"><line x1="278.7" y1="71.2" x2="314.2" y2="81.8"/><line x1="278.7" y1="86.8" x2="318.6" y2="86.2"/><line x1="278.7" y1="106.1" x2="321" y2="89.3"/><line x1="463.6" y1="70" x2="442.4" y2="79.9"/><line x1="464.9" y1="87.4" x2="440" y2="85.5"/><line x1="462.4" y1="108.6" x2="437.5" y2="89.3"/><line x1="266.5" y1="129.7" x2="312.8" y2="145.4"/><line x1="268" y1="144.6" x2="352" y2="171.5"/><line x1="268.5" y1="175.5" x2="356.6" y2="174.4"/><line x1="268.5" y1="197" x2="343.5" y2="190.8"/><line x1="266.5" y1="225" x2="360.5" y2="199.7"/><line x1="466.2" y1="134.6" x2="421" y2="152.4"/><line x1="466.2" y1="151" x2="400.5" y2="160.6"/><line x1="466.2" y1="166" x2="414.2" y2="177"/><line x1="466.2" y1="182.5" x2="423.8" y2="190.7"/><line x1="466.2" y1="197.5" x2="392.3" y2="204.3"/><line x1="466.2" y1="213.9" x2="399" y2="241.9"/><line x1="466.7" y1="285.6" x2="387" y2="262.8"/></g><g stroke="#b52234" stroke-width="1.2" clip-path="url(#lc)"><line x1="278.7" y1="71.2" x2="314.2" y2="81.8"/><line x1="278.7" y1="86.8" x2="318.6" y2="86.2"/><line x1="278.7" y1="106.1" x2="321" y2="89.3"/><line x1="463.6" y1="70" x2="442.4" y2="79.9"/><line x1="464.9" y1="87.4" x2="440" y2="85.5"/><line x1="462.4" y1="108.6" x2="437.5" y2="89.3"/><line x1="266.5" y1="129.7" x2="312.8" y2="145.4"/><line x1="268" y1="144.6" x2="352" y2="171.5"/><line x1="268.5" y1="175.5" x2="356.6" y2="174.4"/><line x1="268.5" y1="197" x2="343.5" y2="190.8"/><line x1="266.5" y1="225" x2="360.5" y2="199.7"/><line x1="466.2" y1="134.6" x2="421" y2="152.4"/><line x1="466.2" y1="151" x2="400.5" y2="160.6"/><line x1="466.2" y1="166" x2="414.2" y2="177"/><line x1="466.2" y1="182.5" x2="423.8" y2="190.7"/><line x1="466.2" y1="197.5" x2="392.3" y2="204.3"/><line x1="466.2" y1="213.9" x2="399" y2="241.9"/><line x1="466.7" y1="285.6" x2="387" y2="262.8"/></g><g stroke="#b52234" stroke-width="1.2" clip-path="url(#vc)"><line x1="278.7" y1="71.2" x2="314.2" y2="81.8"/><line x1="278.7" y1="86.8" x2="318.6" y2="86.2"/><line x1="278.7" y1="106.1" x2="321" y2="89.3"/><line x1="463.6" y1="70" x2="442.4" y2="79.9"/><line x1="464.9" y1="87.4" x2="440" y2="85.5"/><line x1="462.4" y1="108.6" x2="437.5" y2="89.3"/><line x1="266.5" y1="129.7" x2="312.8" y2="145.4"/><line x1="268" y1="144.6" x2="352" y2="171.5"/><line x1="268.5" y1="175.5" x2="356.6" y2="174.4"/><line x1="268.5" y1="197" x2="343.5" y2="190.8"/><line x1="266.5" y1="225" x2="360.5" y2="199.7"/><line x1="466.2" y1="134.6" x2="421" y2="152.4"/><line x1="466.2" y1="151" x2="400.5" y2="160.6"/><line x1="466.2" y1="166" x2="414.2" y2="177"/><line x1="466.2" y1="182.5" x2="423.8" y2="190.7"/><line x1="466.2" y1="197.5" x2="392.3" y2="204.3"/><line x1="466.2" y1="213.9" x2="399" y2="241.9"/><line x1="466.7" y1="285.6" x2="387" y2="262.8"/></g>
<text x="276.6" y="70.6" text-anchor="end">Pulmocutaneous artery</text><text x="276.6" y="87.7" text-anchor="end">Systemic artery</text><text x="276.6" y="106.6" text-anchor="end">Carotid artery</text><text x="264" y="129.6" text-anchor="end">Right atrium</text><text x="264" y="146.5" text-anchor="end">Conus ateriosus</text><text x="264" y="177" text-anchor="end">Spiral valve</text><text x="264" y="199" text-anchor="end">Aortic cavity</text><text x="264" y="217.4" text-anchor="end">Pulmocutaneous cavity</text><text x="467.3" y="73.1" text-anchor="start">Pulmocutaneous artery</text><text x="467.3" y="89.8" text-anchor="start">Systemic artery</text><text x="467.3" y="108.6" text-anchor="start">Carotid artery</text><text x="471.8" y="134.4" text-anchor="start">Entry of pulmonary vein</text><text x="471.8" y="149.8" text-anchor="start">Entry of sinus venosus</text><text x="471.8" y="164.9" text-anchor="start">Interatrial septum</text><text x="471.8" y="181.4" text-anchor="start">Left atrium</text><text x="471.8" y="195.7" text-anchor="start">Right atrium</text><text x="471.8" y="212.9" text-anchor="start">Atrioventricular valve</text><text x="469.2" y="286.6" text-anchor="start">Ventricle</text><text x="280.5" y="349.6" text-anchor="start">Right</text><text x="456" y="350.8" text-anchor="start">Left</text>
<g opacity="1">
<circle cx="570.5" cy="375" r="7.8" fill="none" stroke="#e6e6e6" stroke-width="3.2"/>
<circle cx="570" cy="374.5" r="7.8" fill="none" stroke="#f6f6f6" stroke-width="2.2"/>
<path d="M566,378 L574,370" stroke="#e8e8e8" stroke-width="2"/>
<text x="585" y="383.5" style="font-size:23px;font-weight:bold;fill:#e8e8e8">Study.com</text>
<text x="584" y="382.5" style="font-size:23px;font-weight:bold;fill:#f6f6f6">Study.com</text>
</g>
</svg>
</body></html>
